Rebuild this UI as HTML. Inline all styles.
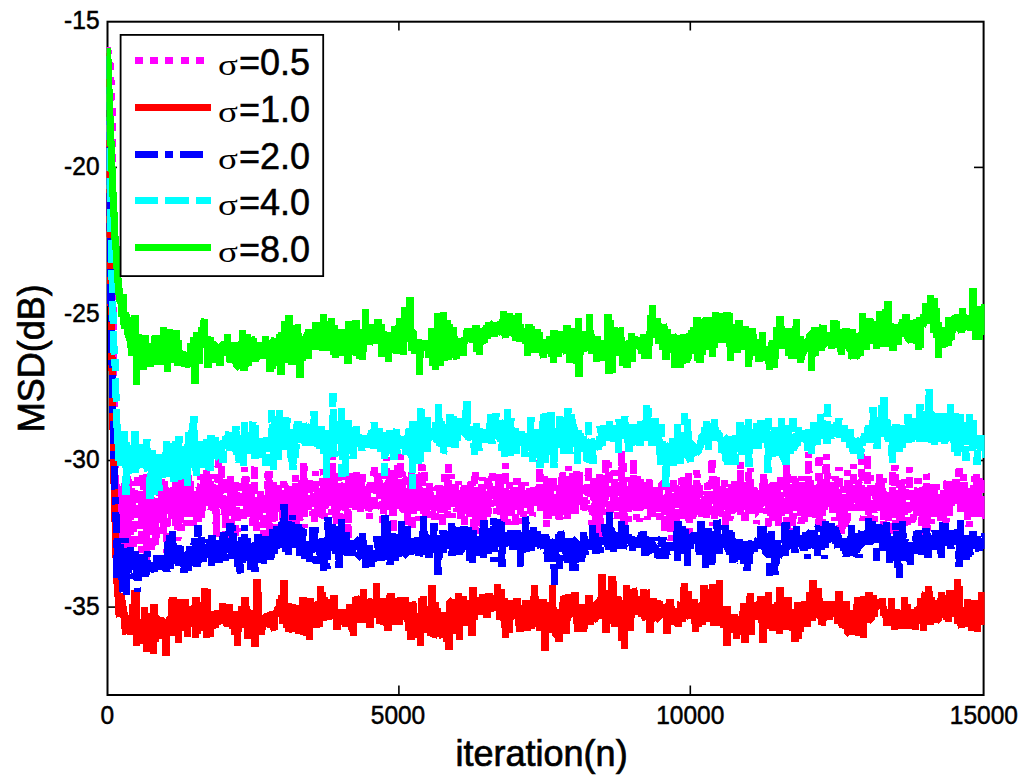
<!DOCTYPE html>
<html><head><meta charset="utf-8"><style>
html,body{margin:0;padding:0;background:#fff;width:1024px;height:783px;overflow:hidden}
svg{display:block}
text{font-family:"Liberation Sans",sans-serif;fill:#000;stroke:#000;stroke-width:0.5px}
.tk{font-size:24.5px}
.lg{font-size:36px}
.sig{font-family:"Liberation Serif",serif;font-size:33px;stroke-width:0px}
.lab{font-size:36px;stroke-width:0.7px}
</style></head><body>
<svg width="1024" height="783" viewBox="0 0 1024 783">
<rect width="1024" height="783" fill="#fff"/>
<defs><clipPath id="ax"><rect x="106.5" y="20.7" width="878.1" height="675.3"/></clipPath></defs>
<g stroke="#000" stroke-width="1.6">
<line x1="398.9" y1="695" x2="398.9" y2="685.5"/>
<line x1="398.9" y1="21.7" x2="398.9" y2="30.5"/>
<line x1="690.3" y1="695" x2="690.3" y2="685.5"/>
<line x1="690.3" y1="21.7" x2="690.3" y2="30.5"/>
<line x1="107.5" y1="167.4" x2="117" y2="167.4"/>
<line x1="983.6" y1="167.4" x2="974" y2="167.4"/>
<line x1="107.5" y1="314.0" x2="117" y2="314.0"/>
<line x1="983.6" y1="314.0" x2="974" y2="314.0"/>
<line x1="107.5" y1="460.5" x2="117" y2="460.5"/>
<line x1="983.6" y1="460.5" x2="974" y2="460.5"/>
<line x1="107.5" y1="607.1" x2="117" y2="607.1"/>
<line x1="983.6" y1="607.1" x2="974" y2="607.1"/>
</g>
<rect x="107.5" y="21.7" width="876.1" height="673.3" fill="none" stroke="#000" stroke-width="2"/>
<g clip-path="url(#ax)">
<polyline points="107.5,47 108.3,53 108.7,55 109.1,58 109.5,61 109.9,63 110.3,65 110.7,74 111.1,85 111.5,95 111.9,103 112.3,116 112.7,170 113.1,255 113.5,329 113.9,389 114.3,418 114.7,445 115.1,466 115.5,489 115.9,478 116.3,503 116.7,489 117.1,517 117.5,493 117.9,503 118.3,497 118.7,521 119.1,567 119.5,529 119.9,508 120.3,505 120.7,484 121.1,513 121.5,515 121.9,496 122.3,552 122.7,506 123.1,523 123.5,514 123.9,493 124.3,517 124.7,483 125.1,495 125.5,497 125.9,533 126.3,491 126.7,545 127.1,476 127.5,556 127.9,502 128.3,527 128.7,479 129.1,506 129.5,492 129.9,508 130.3,517 130.7,561 131.1,488 131.5,518 131.9,512 132.3,501 132.7,515 133.1,481 133.5,503 133.9,557 134.3,500 134.7,487 135.1,494 135.5,502 135.9,504 136.3,519 136.7,481 137.1,506 137.5,511 137.9,473 138.3,528 138.7,508 139.1,490 139.5,502 139.9,511 140.3,492 140.7,495 141.1,497 141.5,553 141.9,522 142.3,503 142.7,475 143.1,477 143.5,485 143.9,520 144.3,492 144.7,527 145.1,524 145.5,502 145.9,512 146.3,474 146.7,560 147.1,502 147.5,522 147.9,507 148.3,485 148.7,517 149.1,535 149.5,479 149.9,527 150.3,515 150.7,478 151.1,496 151.5,551 151.9,552 152.3,500 152.7,514 153.1,504 153.5,526 153.9,515 154.3,503 154.7,501 155.1,505 155.5,509 155.9,545 156.3,500 156.7,480 157.1,507 157.5,532 157.9,526 158.3,521 158.7,511 159.1,513 159.5,483 159.9,490 160.3,508 160.7,520 161.1,506 161.5,462 161.9,510 162.3,521 162.7,494 163.1,491 163.5,498 163.9,534 164.3,481 164.7,489 165.1,504 165.5,504 165.9,503 166.3,500 166.7,503 167.1,553 167.5,549 167.9,493 168.3,486 168.7,507 169.1,512 169.5,507 169.9,514 170.3,494 170.7,501 171.1,515 171.5,503 171.9,518 172.3,522 172.7,500 173.1,511 173.5,491 173.9,484 174.3,506 174.7,498 175.1,505 175.5,526 175.9,464 176.3,508 176.7,511 177.1,506 177.5,512 177.9,541 178.3,513 178.7,488 179.1,516 179.5,482 179.9,474 180.3,508 180.7,518 181.1,531 181.5,497 181.9,463 182.3,502 182.7,499 183.1,490 183.5,517 183.9,508 184.3,484 184.7,473 185.1,507 185.5,498 185.9,512 186.3,526 186.7,503 187.1,514 187.5,506 187.9,497 188.3,502 188.7,464 189.1,504 189.5,499 189.9,503 190.3,480 190.7,505 191.1,507 191.5,504 191.9,517 192.3,513 192.7,496 193.1,516 193.5,526 193.9,492 194.3,493 194.7,513 195.1,516 195.5,504 195.9,491 196.3,522 196.7,497 197.1,503 197.5,501 197.9,498 198.3,524 198.7,504 199.1,487 199.5,504 199.9,504 200.3,474 200.7,502 201.1,509 201.5,490 201.9,518 202.3,501 202.7,492 203.1,480 203.5,508 203.9,498 204.3,500 204.7,505 205.1,492 205.5,507 205.9,481 206.3,470 206.7,508 207.1,499 207.5,500 207.9,474 208.3,491 208.7,506 209.1,492 209.5,502 209.9,502 210.3,481 210.7,503 211.1,510 211.5,498 211.9,474 212.3,479 212.7,496 213.1,501 213.5,495 213.9,512 214.3,511 214.7,513 215.1,493 215.5,503 215.9,508 216.3,537 216.7,521 217.1,510 217.5,485 217.9,488 218.3,448 218.7,508 219.1,506 219.5,476 219.9,497 220.3,488 220.7,497 221.1,475 221.5,449 221.9,494 222.3,478 222.7,502 223.1,497 223.5,503 223.9,506 224.3,505 224.7,502 225.1,521 225.5,487 225.9,537 226.3,502 226.7,501 227.1,504 227.5,520 227.9,524 228.3,507 228.7,510 229.1,510 229.5,490 229.9,476 230.3,502 230.7,476 231.1,548 231.5,489 231.9,488 232.3,515 232.7,488 233.1,503 233.5,505 233.9,501 234.3,482 234.7,497 235.1,522 235.5,538 235.9,506 236.3,520 236.7,483 237.1,532 237.5,497 237.9,499 238.3,496 238.7,503 239.1,493 239.5,502 239.9,497 240.3,502 240.7,490 241.1,484 241.5,479 241.9,500 242.3,515 242.7,491 243.1,496 243.5,522 243.9,507 244.3,494 244.7,467 245.1,496 245.5,474 245.9,496 246.3,495 246.7,477 247.1,515 247.5,512 247.9,502 248.3,507 248.7,507 249.1,514 249.5,492 249.9,506 250.3,515 250.7,519 251.1,484 251.5,512 251.9,508 252.3,503 252.7,498 253.1,526 253.5,499 253.9,515 254.3,467 254.7,465 255.1,518 255.5,525 255.9,513 256.3,534 256.7,511 257.1,502 257.5,511 257.9,501 258.3,520 258.7,496 259.1,518 259.5,498 259.9,510 260.3,488 260.7,510 261.1,499 261.5,505 261.9,501 262.3,505 262.7,510 263.1,499 263.5,537 263.9,501 264.3,500 264.7,514 265.1,504 265.5,500 265.9,504 266.3,492 266.7,508 267.1,505 267.5,497 267.9,473 268.3,482 268.7,536 269.1,471 269.5,536 269.9,492 270.3,497 270.7,513 271.1,498 271.5,486 271.9,503 272.3,487 272.7,522 273.1,480 273.5,501 273.9,486 274.3,530 274.7,526 275.1,487 275.5,498 275.9,502 276.3,504 276.7,512 277.1,514 277.5,489 277.9,482 278.3,502 278.7,512 279.1,494 279.5,502 279.9,499 280.3,515 280.7,504 281.1,509 281.5,494 281.9,490 282.3,506 282.7,528 283.1,497 283.5,547 283.9,481 284.3,529 284.7,501 285.1,506 285.5,528 285.9,511 286.3,511 286.7,504 287.1,496 287.5,500 287.9,487 288.3,499 288.7,524 289.1,546 289.5,498 289.9,519 290.3,488 290.7,495 291.1,484 291.5,521 291.9,501 292.3,500 292.7,499 293.1,523 293.5,521 293.9,495 294.3,498 294.7,532 295.1,524 295.5,475 295.9,537 296.3,491 296.7,510 297.1,549 297.5,499 297.9,501 298.3,506 298.7,505 299.1,500 299.5,505 299.9,521 300.3,500 300.7,493 301.1,508 301.5,485 301.9,480 302.3,494 302.7,479 303.1,498 303.5,510 303.9,463 304.3,528 304.7,476 305.1,509 305.5,499 305.9,503 306.3,498 306.7,501 307.1,496 307.5,504 307.9,509 308.3,508 308.7,512 309.1,486 309.5,479 309.9,500 310.3,501 310.7,507 311.1,494 311.5,493 311.9,492 312.3,516 312.7,507 313.1,492 313.5,504 313.9,505 314.3,510 314.7,523 315.1,496 315.5,471 315.9,491 316.3,492 316.7,501 317.1,488 317.5,516 317.9,495 318.3,497 318.7,506 319.1,491 319.5,510 319.9,494 320.3,489 320.7,518 321.1,508 321.5,488 321.9,490 322.3,521 322.7,495 323.1,469 323.5,475 323.9,504 324.3,519 324.7,497 325.1,507 325.5,506 325.9,491 326.3,506 326.7,501 327.1,477 327.5,499 327.9,480 328.3,483 328.7,506 329.1,496 329.5,505 329.9,500 330.3,499 330.7,492 331.1,491 331.5,484 331.9,515 332.3,490 332.7,454 333.1,506 333.5,473 333.9,501 334.3,470 334.7,515 335.1,488 335.5,489 335.9,497 336.3,540 336.7,475 337.1,511 337.5,490 337.9,509 338.3,495 338.7,474 339.1,489 339.5,525 339.9,524 340.3,487 340.7,497 341.1,519 341.5,511 341.9,486 342.3,473 342.7,504 343.1,499 343.5,503 343.9,483 344.3,510 344.7,476 345.1,480 345.5,522 345.9,506 346.3,487 346.7,489 347.1,502 347.5,513 347.9,531 348.3,473 348.7,540 349.1,473 349.5,501 349.9,500 350.3,488 350.7,496 351.1,493 351.5,506 351.9,505 352.3,491 352.7,507 353.1,495 353.5,493 353.9,482 354.3,493 354.7,494 355.1,492 355.5,510 355.9,487 356.3,471 356.7,492 357.1,484 357.5,483 357.9,501 358.3,484 358.7,504 359.1,504 359.5,508 359.9,505 360.3,512 360.7,474 361.1,479 361.5,503 361.9,504 362.3,470 362.7,497 363.1,496 363.5,504 363.9,500 364.3,492 364.7,490 365.1,488 365.5,502 365.9,507 366.3,511 366.7,495 367.1,508 367.5,486 367.9,500 368.3,514 368.7,509 369.1,499 369.5,519 369.9,490 370.3,479 370.7,481 371.1,511 371.5,489 371.9,510 372.3,510 372.7,498 373.1,494 373.5,495 373.9,479 374.3,464 374.7,505 375.1,511 375.5,503 375.9,498 376.3,491 376.7,491 377.1,482 377.5,481 377.9,477 378.3,491 378.7,494 379.1,492 379.5,480 379.9,497 380.3,492 380.7,497 381.1,494 381.5,499 381.9,473 382.3,500 382.7,523 383.1,518 383.5,502 383.9,483 384.3,510 384.7,474 385.1,485 385.5,512 385.9,488 386.3,468 386.7,457 387.1,502 387.5,486 387.9,480 388.3,491 388.7,508 389.1,480 389.5,476 389.9,497 390.3,481 390.7,510 391.1,494 391.5,486 391.9,494 392.3,470 392.7,483 393.1,533 393.5,490 393.9,510 394.3,486 394.7,476 395.1,485 395.5,497 395.9,490 396.3,501 396.7,482 397.1,502 397.5,464 397.9,494 398.3,489 398.7,471 399.1,509 399.5,505 399.9,493 400.3,454 400.7,498 401.1,490 401.5,493 401.9,471 402.3,496 402.7,513 403.1,498 403.5,488 403.9,506 404.3,513 404.7,497 405.1,479 405.5,479 405.9,505 406.3,490 406.7,491 407.1,517 407.5,499 407.9,527 408.3,509 408.7,496 409.1,491 409.5,495 409.9,502 410.3,503 410.7,479 411.1,502 411.5,472 411.9,530 412.3,496 412.7,504 413.1,514 413.5,501 413.9,484 414.3,497 414.7,497 415.1,472 415.5,499 415.9,477 416.3,483 416.7,506 417.1,498 417.5,479 417.9,497 418.3,489 418.7,474 419.1,521 419.5,477 419.9,491 420.3,497 420.7,500 421.1,485 421.5,483 421.9,464 422.3,489 422.7,500 423.1,494 423.5,491 423.9,516 424.3,511 424.7,469 425.1,512 425.5,500 425.9,515 426.3,520 426.7,494 427.1,503 427.5,507 427.9,508 428.3,489 428.7,503 429.1,495 429.5,481 429.9,504 430.3,507 430.7,495 431.1,490 431.5,503 431.9,509 432.3,511 432.7,518 433.1,508 433.5,503 433.9,501 434.3,505 434.7,493 435.1,520 435.5,497 435.9,510 436.3,505 436.7,489 437.1,487 437.5,509 437.9,502 438.3,496 438.7,494 439.1,485 439.5,511 439.9,498 440.3,485 440.7,501 441.1,515 441.5,499 441.9,505 442.3,495 442.7,527 443.1,497 443.5,483 443.9,515 444.3,500 444.7,470 445.1,510 445.5,503 445.9,505 446.3,489 446.7,488 447.1,512 447.5,518 447.9,482 448.3,505 448.7,461 449.1,502 449.5,490 449.9,489 450.3,486 450.7,475 451.1,506 451.5,474 451.9,493 452.3,518 452.7,491 453.1,495 453.5,494 453.9,504 454.3,485 454.7,489 455.1,483 455.5,500 455.9,492 456.3,492 456.7,489 457.1,512 457.5,497 457.9,490 458.3,481 458.7,508 459.1,490 459.5,498 459.9,505 460.3,500 460.7,494 461.1,520 461.5,489 461.9,512 462.3,488 462.7,508 463.1,502 463.5,498 463.9,492 464.3,482 464.7,536 465.1,499 465.5,515 465.9,488 466.3,494 466.7,514 467.1,500 467.5,513 467.9,494 468.3,489 468.7,483 469.1,490 469.5,517 469.9,495 470.3,491 470.7,482 471.1,496 471.5,518 471.9,481 472.3,486 472.7,503 473.1,495 473.5,513 473.9,533 474.3,491 474.7,492 475.1,470 475.5,534 475.9,498 476.3,510 476.7,496 477.1,495 477.5,497 477.9,503 478.3,504 478.7,488 479.1,506 479.5,494 479.9,503 480.3,508 480.7,521 481.1,508 481.5,487 481.9,484 482.3,521 482.7,477 483.1,529 483.5,502 483.9,495 484.3,491 484.7,495 485.1,491 485.5,491 485.9,494 486.3,508 486.7,504 487.1,498 487.5,519 487.9,476 488.3,484 488.7,514 489.1,483 489.5,487 489.9,495 490.3,491 490.7,507 491.1,486 491.5,501 491.9,476 492.3,481 492.7,473 493.1,489 493.5,499 493.9,483 494.3,476 494.7,480 495.1,493 495.5,505 495.9,496 496.3,493 496.7,503 497.1,514 497.5,502 497.9,506 498.3,471 498.7,489 499.1,482 499.5,510 499.9,485 500.3,475 500.7,491 501.1,515 501.5,501 501.9,494 502.3,508 502.7,513 503.1,510 503.5,502 503.9,524 504.3,496 504.7,505 505.1,506 505.5,463 505.9,493 506.3,490 506.7,497 507.1,500 507.5,494 507.9,525 508.3,507 508.7,509 509.1,500 509.5,497 509.9,482 510.3,510 510.7,520 511.1,525 511.5,496 511.9,502 512.3,503 512.7,498 513.1,491 513.5,488 513.9,485 514.3,492 514.7,498 515.1,488 515.5,527 515.9,486 516.3,504 516.7,502 517.1,478 517.5,485 517.9,490 518.3,513 518.7,500 519.1,504 519.5,491 519.9,489 520.3,524 520.7,496 521.1,509 521.5,481 521.9,499 522.3,491 522.7,492 523.1,489 523.5,517 523.9,500 524.3,504 524.7,493 525.1,488 525.5,482 525.9,500 526.3,495 526.7,501 527.1,505 527.5,496 527.9,508 528.3,492 528.7,509 529.1,508 529.5,488 529.9,495 530.3,514 530.7,505 531.1,497 531.5,493 531.9,490 532.3,516 532.7,514 533.1,506 533.5,506 533.9,487 534.3,489 534.7,504 535.1,493 535.5,502 535.9,491 536.3,487 536.7,486 537.1,499 537.5,506 537.9,500 538.3,493 538.7,487 539.1,503 539.5,502 539.9,460 540.3,511 540.7,489 541.1,505 541.5,495 541.9,498 542.3,496 542.7,484 543.1,486 543.5,499 543.9,491 544.3,476 544.7,508 545.1,491 545.5,507 545.9,509 546.3,476 546.7,527 547.1,505 547.5,508 547.9,512 548.3,519 548.7,506 549.1,480 549.5,500 549.9,503 550.3,478 550.7,493 551.1,479 551.5,505 551.9,515 552.3,506 552.7,512 553.1,477 553.5,516 553.9,496 554.3,507 554.7,504 555.1,501 555.5,504 555.9,495 556.3,496 556.7,504 557.1,503 557.5,505 557.9,494 558.3,494 558.7,506 559.1,519 559.5,483 559.9,520 560.3,489 560.7,489 561.1,515 561.5,476 561.9,513 562.3,494 562.7,470 563.1,483 563.5,497 563.9,509 564.3,497 564.7,483 565.1,486 565.5,495 565.9,493 566.3,491 566.7,494 567.1,519 567.5,481 567.9,503 568.3,466 568.7,507 569.1,499 569.5,497 569.9,514 570.3,492 570.7,496 571.1,487 571.5,486 571.9,495 572.3,473 572.7,495 573.1,494 573.5,497 573.9,504 574.3,496 574.7,477 575.1,515 575.5,498 575.9,493 576.3,479 576.7,471 577.1,497 577.5,490 577.9,503 578.3,488 578.7,496 579.1,472 579.5,506 579.9,492 580.3,496 580.7,508 581.1,500 581.5,502 581.9,495 582.3,496 582.7,485 583.1,482 583.5,513 583.9,500 584.3,501 584.7,497 585.1,507 585.5,501 585.9,502 586.3,504 586.7,483 587.1,485 587.5,490 587.9,484 588.3,467 588.7,491 589.1,498 589.5,481 589.9,490 590.3,498 590.7,485 591.1,510 591.5,510 591.9,525 592.3,523 592.7,512 593.1,510 593.5,497 593.9,481 594.3,503 594.7,517 595.1,501 595.5,478 595.9,523 596.3,482 596.7,497 597.1,485 597.5,526 597.9,496 598.3,517 598.7,513 599.1,545 599.5,473 599.9,533 600.3,504 600.7,501 601.1,518 601.5,481 601.9,484 602.3,514 602.7,512 603.1,479 603.5,494 603.9,494 604.3,507 604.7,501 605.1,482 605.5,500 605.9,459 606.3,492 606.7,486 607.1,495 607.5,490 607.9,483 608.3,484 608.7,462 609.1,485 609.5,500 609.9,515 610.3,501 610.7,491 611.1,485 611.5,484 611.9,499 612.3,504 612.7,507 613.1,497 613.5,507 613.9,500 614.3,485 614.7,470 615.1,494 615.5,505 615.9,499 616.3,506 616.7,491 617.1,519 617.5,495 617.9,486 618.3,488 618.7,519 619.1,481 619.5,493 619.9,505 620.3,498 620.7,485 621.1,484 621.5,451 621.9,508 622.3,489 622.7,527 623.1,460 623.5,508 623.9,533 624.3,489 624.7,526 625.1,491 625.5,500 625.9,507 626.3,491 626.7,514 627.1,485 627.5,493 627.9,477 628.3,522 628.7,511 629.1,510 629.5,489 629.9,486 630.3,507 630.7,505 631.1,500 631.5,479 631.9,497 632.3,478 632.7,510 633.1,488 633.5,459 633.9,505 634.3,501 634.7,496 635.1,498 635.5,506 635.9,501 636.3,520 636.7,498 637.1,507 637.5,485 637.9,476 638.3,506 638.7,492 639.1,501 639.5,486 639.9,522 640.3,479 640.7,501 641.1,489 641.5,508 641.9,509 642.3,493 642.7,497 643.1,509 643.5,487 643.9,495 644.3,484 644.7,507 645.1,494 645.5,488 645.9,496 646.3,480 646.7,492 647.1,509 647.5,520 647.9,492 648.3,504 648.7,500 649.1,483 649.5,476 649.9,490 650.3,489 650.7,516 651.1,492 651.5,514 651.9,500 652.3,518 652.7,498 653.1,488 653.5,501 653.9,489 654.3,495 654.7,504 655.1,498 655.5,487 655.9,493 656.3,497 656.7,500 657.1,489 657.5,496 657.9,488 658.3,511 658.7,494 659.1,487 659.5,490 659.9,520 660.3,497 660.7,511 661.1,504 661.5,484 661.9,484 662.3,500 662.7,485 663.1,500 663.5,504 663.9,499 664.3,531 664.7,503 665.1,496 665.5,502 665.9,518 666.3,502 666.7,512 667.1,496 667.5,494 667.9,504 668.3,500 668.7,483 669.1,506 669.5,493 669.9,516 670.3,517 670.7,519 671.1,541 671.5,501 671.9,529 672.3,506 672.7,497 673.1,478 673.5,506 673.9,501 674.3,504 674.7,518 675.1,488 675.5,489 675.9,485 676.3,528 676.7,531 677.1,489 677.5,501 677.9,488 678.3,506 678.7,499 679.1,504 679.5,497 679.9,497 680.3,499 680.7,490 681.1,507 681.5,507 681.9,478 682.3,499 682.7,521 683.1,502 683.5,496 683.9,475 684.3,493 684.7,507 685.1,504 685.5,480 685.9,487 686.3,506 686.7,506 687.1,494 687.5,505 687.9,476 688.3,517 688.7,473 689.1,541 689.5,481 689.9,510 690.3,488 690.7,509 691.1,508 691.5,492 691.9,500 692.3,519 692.7,506 693.1,492 693.5,519 693.9,502 694.3,497 694.7,517 695.1,503 695.5,500 695.9,505 696.3,493 696.7,470 697.1,494 697.5,474 697.9,505 698.3,503 698.7,505 699.1,500 699.5,484 699.9,494 700.3,504 700.7,509 701.1,504 701.5,506 701.9,519 702.3,499 702.7,503 703.1,500 703.5,510 703.9,508 704.3,496 704.7,517 705.1,491 705.5,503 705.9,505 706.3,518 706.7,501 707.1,502 707.5,483 707.9,507 708.3,507 708.7,500 709.1,512 709.5,500 709.9,482 710.3,496 710.7,499 711.1,500 711.5,506 711.9,459 712.3,481 712.7,504 713.1,526 713.5,516 713.9,498 714.3,475 714.7,521 715.1,517 715.5,498 715.9,496 716.3,477 716.7,512 717.1,504 717.5,501 717.9,496 718.3,503 718.7,514 719.1,510 719.5,510 719.9,510 720.3,502 720.7,518 721.1,495 721.5,487 721.9,495 722.3,489 722.7,486 723.1,501 723.5,496 723.9,504 724.3,480 724.7,506 725.1,502 725.5,526 725.9,517 726.3,497 726.7,488 727.1,492 727.5,517 727.9,499 728.3,512 728.7,507 729.1,504 729.5,495 729.9,521 730.3,488 730.7,493 731.1,502 731.5,484 731.9,514 732.3,492 732.7,510 733.1,508 733.5,498 733.9,501 734.3,482 734.7,490 735.1,481 735.5,508 735.9,512 736.3,501 736.7,508 737.1,512 737.5,506 737.9,497 738.3,511 738.7,505 739.1,481 739.5,505 739.9,503 740.3,462 740.7,516 741.1,508 741.5,490 741.9,500 742.3,491 742.7,496 743.1,498 743.5,509 743.9,503 744.3,521 744.7,481 745.1,523 745.5,513 745.9,514 746.3,483 746.7,490 747.1,507 747.5,497 747.9,499 748.3,469 748.7,516 749.1,500 749.5,479 749.9,489 750.3,468 750.7,514 751.1,508 751.5,500 751.9,496 752.3,497 752.7,515 753.1,497 753.5,496 753.9,484 754.3,508 754.7,498 755.1,514 755.5,514 755.9,494 756.3,524 756.7,522 757.1,508 757.5,494 757.9,487 758.3,487 758.7,501 759.1,490 759.5,493 759.9,504 760.3,509 760.7,495 761.1,491 761.5,493 761.9,508 762.3,480 762.7,499 763.1,496 763.5,503 763.9,473 764.3,513 764.7,496 765.1,491 765.5,493 765.9,484 766.3,500 766.7,514 767.1,500 767.5,496 767.9,503 768.3,503 768.7,545 769.1,491 769.5,485 769.9,503 770.3,491 770.7,516 771.1,497 771.5,507 771.9,487 772.3,509 772.7,480 773.1,521 773.5,507 773.9,482 774.3,514 774.7,510 775.1,494 775.5,501 775.9,487 776.3,504 776.7,519 777.1,490 777.5,487 777.9,509 778.3,527 778.7,515 779.1,502 779.5,492 779.9,485 780.3,476 780.7,494 781.1,519 781.5,507 781.9,506 782.3,512 782.7,513 783.1,498 783.5,507 783.9,513 784.3,499 784.7,503 785.1,491 785.5,492 785.9,497 786.3,464 786.7,510 787.1,530 787.5,471 787.9,486 788.3,499 788.7,525 789.1,522 789.5,503 789.9,497 790.3,504 790.7,505 791.1,511 791.5,496 791.9,506 792.3,494 792.7,535 793.1,505 793.5,509 793.9,476 794.3,503 794.7,505 795.1,478 795.5,502 795.9,502 796.3,492 796.7,492 797.1,492 797.5,483 797.9,497 798.3,491 798.7,500 799.1,492 799.5,489 799.9,511 800.3,502 800.7,487 801.1,524 801.5,479 801.9,476 802.3,490 802.7,512 803.1,479 803.5,497 803.9,498 804.3,525 804.7,499 805.1,499 805.5,507 805.9,492 806.3,494 806.7,486 807.1,517 807.5,503 807.9,488 808.3,505 808.7,452 809.1,489 809.5,501 809.9,487 810.3,493 810.7,480 811.1,489 811.5,498 811.9,518 812.3,507 812.7,515 813.1,515 813.5,502 813.9,486 814.3,491 814.7,490 815.1,499 815.5,501 815.9,506 816.3,491 816.7,495 817.1,485 817.5,495 817.9,499 818.3,533 818.7,476 819.1,454 819.5,519 819.9,484 820.3,505 820.7,479 821.1,510 821.5,490 821.9,502 822.3,486 822.7,525 823.1,491 823.5,480 823.9,508 824.3,510 824.7,491 825.1,496 825.5,466 825.9,474 826.3,454 826.7,500 827.1,488 827.5,473 827.9,487 828.3,489 828.7,507 829.1,491 829.5,500 829.9,497 830.3,505 830.7,492 831.1,484 831.5,483 831.9,498 832.3,495 832.7,513 833.1,480 833.5,506 833.9,500 834.3,484 834.7,521 835.1,476 835.5,509 835.9,487 836.3,501 836.7,498 837.1,499 837.5,506 837.9,480 838.3,505 838.7,502 839.1,467 839.5,544 839.9,512 840.3,512 840.7,497 841.1,505 841.5,492 841.9,534 842.3,495 842.7,529 843.1,486 843.5,499 843.9,506 844.3,503 844.7,524 845.1,489 845.5,529 845.9,502 846.3,498 846.7,526 847.1,517 847.5,470 847.9,509 848.3,503 848.7,508 849.1,491 849.5,480 849.9,495 850.3,499 850.7,506 851.1,492 851.5,493 851.9,510 852.3,503 852.7,511 853.1,480 853.5,464 853.9,486 854.3,487 854.7,498 855.1,485 855.5,493 855.9,504 856.3,495 856.7,505 857.1,488 857.5,493 857.9,503 858.3,511 858.7,482 859.1,482 859.5,496 859.9,490 860.3,501 860.7,497 861.1,493 861.5,488 861.9,452 862.3,490 862.7,495 863.1,521 863.5,494 863.9,503 864.3,503 864.7,508 865.1,491 865.5,496 865.9,509 866.3,498 866.7,495 867.1,502 867.5,455 867.9,501 868.3,515 868.7,497 869.1,514 869.5,513 869.9,497 870.3,475 870.7,519 871.1,497 871.5,504 871.9,507 872.3,510 872.7,506 873.1,504 873.5,506 873.9,512 874.3,522 874.7,484 875.1,493 875.5,508 875.9,496 876.3,501 876.7,490 877.1,511 877.5,485 877.9,495 878.3,482 878.7,504 879.1,497 879.5,474 879.9,490 880.3,489 880.7,503 881.1,493 881.5,483 881.9,492 882.3,510 882.7,489 883.1,478 883.5,528 883.9,498 884.3,507 884.7,517 885.1,519 885.5,498 885.9,509 886.3,497 886.7,492 887.1,494 887.5,508 887.9,498 888.3,521 888.7,505 889.1,504 889.5,500 889.9,495 890.3,512 890.7,496 891.1,536 891.5,505 891.9,503 892.3,471 892.7,514 893.1,496 893.5,507 893.9,503 894.3,495 894.7,473 895.1,465 895.5,542 895.9,505 896.3,516 896.7,502 897.1,501 897.5,499 897.9,495 898.3,501 898.7,514 899.1,483 899.5,523 899.9,503 900.3,517 900.7,505 901.1,480 901.5,526 901.9,511 902.3,486 902.7,509 903.1,504 903.5,518 903.9,502 904.3,517 904.7,479 905.1,491 905.5,494 905.9,496 906.3,498 906.7,497 907.1,529 907.5,500 907.9,511 908.3,513 908.7,503 909.1,508 909.5,467 909.9,495 910.3,491 910.7,493 911.1,510 911.5,520 911.9,522 912.3,519 912.7,510 913.1,497 913.5,507 913.9,520 914.3,490 914.7,494 915.1,503 915.5,506 915.9,498 916.3,509 916.7,514 917.1,489 917.5,495 917.9,478 918.3,493 918.7,501 919.1,519 919.5,494 919.9,509 920.3,508 920.7,513 921.1,491 921.5,537 921.9,513 922.3,485 922.7,519 923.1,506 923.5,495 923.9,498 924.3,499 924.7,544 925.1,496 925.5,486 925.9,533 926.3,474 926.7,476 927.1,506 927.5,531 927.9,515 928.3,499 928.7,488 929.1,502 929.5,504 929.9,502 930.3,498 930.7,497 931.1,524 931.5,496 931.9,496 932.3,513 932.7,497 933.1,484 933.5,495 933.9,507 934.3,486 934.7,517 935.1,507 935.5,503 935.9,484 936.3,500 936.7,493 937.1,503 937.5,495 937.9,504 938.3,508 938.7,496 939.1,511 939.5,518 939.9,515 940.3,498 940.7,523 941.1,498 941.5,492 941.9,510 942.3,501 942.7,499 943.1,519 943.5,515 943.9,490 944.3,504 944.7,497 945.1,514 945.5,519 945.9,524 946.3,491 946.7,503 947.1,481 947.5,478 947.9,493 948.3,493 948.7,488 949.1,517 949.5,513 949.9,495 950.3,492 950.7,496 951.1,507 951.5,498 951.9,489 952.3,495 952.7,496 953.1,499 953.5,488 953.9,497 954.3,498 954.7,480 955.1,494 955.5,499 955.9,475 956.3,499 956.7,504 957.1,498 957.5,498 957.9,492 958.3,504 958.7,495 959.1,465 959.5,478 959.9,491 960.3,486 960.7,505 961.1,513 961.5,496 961.9,496 962.3,500 962.7,497 963.1,494 963.5,500 963.9,474 964.3,501 964.7,504 965.1,502 965.5,498 965.9,491 966.3,485 966.7,487 967.1,499 967.5,520 967.9,507 968.3,512 968.7,516 969.1,527 969.5,504 969.9,501 970.3,499 970.7,509 971.1,515 971.5,499 971.9,490 972.3,493 972.7,512 973.1,493 973.5,484 973.9,499 974.3,476 974.7,517 975.1,509 975.5,509 975.9,492 976.3,496 976.7,474 977.1,505 977.5,498 977.9,492 978.3,517 978.7,510 979.1,476 979.5,510 979.9,500 980.3,500 980.7,500 981.1,505 981.5,478 981.9,511 982.3,502 982.7,489 983.1,512 983.5,495 983.9,500 984.3,514 984.7,502 985.1,519 985.5,510 985.9,505 986.3,503" fill="none" stroke="#ff00ff" stroke-width="7.2" stroke-linejoin="bevel" shape-rendering="crispEdges" stroke-dasharray="8 7.3"/>
<polyline points="107.5,53 108.0,89 108.5,125 109.0,160 109.5,195 110.0,229 110.5,264 111.0,299 111.5,331 112.0,363 112.5,396 113.0,423 113.5,454 114.0,478 114.5,504 115.0,515 115.5,545 116.0,558 116.5,558 117.0,583 117.5,586 118.0,597 118.5,594 119.0,614 119.5,617 120.0,608 120.5,609 121.0,597 121.5,593 122.0,601 122.5,606 123.0,607 123.5,616 124.0,617 124.5,612 125.0,628 125.5,632 126.0,634 126.5,620 127.0,616 127.5,625 128.0,616 128.5,624 129.0,621 129.5,628 130.0,620 130.5,635 131.0,616 131.5,621 132.0,615 132.5,621 133.0,604 133.5,632 134.0,617 134.5,621 135.0,590 135.5,633 136.0,590 136.5,646 137.0,622 137.5,631 138.0,633 138.5,620 139.0,630 139.5,642 140.0,633 140.5,644 141.0,619 141.5,637 142.0,641 142.5,630 143.0,633 143.5,636 144.0,633 144.5,607 145.0,637 145.5,630 146.0,631 146.5,652 147.0,629 147.5,636 148.0,628 148.5,629 149.0,613 149.5,623 150.0,627 150.5,633 151.0,628 151.5,628 152.0,634 152.5,623 153.0,635 153.5,654 154.0,604 154.5,634 155.0,642 155.5,620 156.0,624 156.5,623 157.0,619 157.5,627 158.0,619 158.5,619 159.0,627 159.5,621 160.0,622 160.5,617 161.0,621 161.5,625 162.0,624 162.5,639 163.0,621 163.5,621 164.0,626 164.5,633 165.0,621 165.5,628 166.0,656 166.5,624 167.0,628 167.5,626 168.0,633 168.5,636 169.0,623 169.5,629 170.0,617 170.5,629 171.0,621 171.5,599 172.0,619 172.5,636 173.0,597 173.5,610 174.0,609 174.5,617 175.0,617 175.5,614 176.0,613 176.5,623 177.0,622 177.5,617 178.0,619 178.5,643 179.0,625 179.5,599 180.0,614 180.5,621 181.0,606 181.5,611 182.0,614 182.5,612 183.0,631 183.5,624 184.0,620 184.5,615 185.0,599 185.5,627 186.0,617 186.5,622 187.0,625 187.5,637 188.0,619 188.5,622 189.0,618 189.5,614 190.0,622 190.5,627 191.0,606 191.5,608 192.0,609 192.5,616 193.0,610 193.5,617 194.0,614 194.5,614 195.0,611 195.5,638 196.0,597 196.5,633 197.0,611 197.5,634 198.0,615 198.5,612 199.0,605 199.5,610 200.0,611 200.5,602 201.0,620 201.5,624 202.0,622 202.5,608 203.0,606 203.5,625 204.0,631 204.5,588 205.0,612 205.5,598 206.0,612 206.5,638 207.0,632 207.5,589 208.0,616 208.5,624 209.0,614 209.5,625 210.0,611 210.5,637 211.0,617 211.5,617 212.0,629 212.5,621 213.0,617 213.5,625 214.0,620 214.5,614 215.0,614 215.5,628 216.0,612 216.5,624 217.0,625 217.5,616 218.0,610 218.5,620 219.0,621 219.5,624 220.0,620 220.5,622 221.0,612 221.5,624 222.0,617 222.5,603 223.0,624 223.5,606 224.0,621 224.5,619 225.0,607 225.5,611 226.0,619 226.5,624 227.0,625 227.5,624 228.0,612 228.5,617 229.0,609 229.5,604 230.0,616 230.5,619 231.0,619 231.5,618 232.0,619 232.5,629 233.0,622 233.5,629 234.0,622 234.5,611 235.0,635 235.5,627 236.0,630 236.5,625 237.0,625 237.5,646 238.0,629 238.5,617 239.0,622 239.5,624 240.0,628 240.5,618 241.0,617 241.5,626 242.0,606 242.5,622 243.0,628 243.5,614 244.0,610 244.5,618 245.0,597 245.5,613 246.0,606 246.5,614 247.0,609 247.5,634 248.0,639 248.5,620 249.0,623 249.5,637 250.0,611 250.5,612 251.0,616 251.5,619 252.0,617 252.5,611 253.0,626 253.5,637 254.0,627 254.5,614 255.0,647 255.5,625 256.0,628 256.5,603 257.0,579 257.5,589 258.0,593 258.5,630 259.0,624 259.5,623 260.0,621 260.5,621 261.0,620 261.5,635 262.0,629 262.5,618 263.0,619 263.5,619 264.0,620 264.5,622 265.0,624 265.5,620 266.0,615 266.5,616 267.0,617 267.5,613 268.0,625 268.5,626 269.0,619 269.5,621 270.0,615 270.5,628 271.0,612 271.5,613 272.0,614 272.5,613 273.0,620 273.5,616 274.0,629 274.5,630 275.0,612 275.5,612 276.0,615 276.5,615 277.0,614 277.5,617 278.0,607 278.5,617 279.0,608 279.5,599 280.0,603 280.5,607 281.0,601 281.5,595 282.0,605 282.5,616 283.0,624 283.5,598 284.0,580 284.5,600 285.0,607 285.5,607 286.0,611 286.5,628 287.0,621 287.5,610 288.0,603 288.5,632 289.0,630 289.5,617 290.0,609 290.5,611 291.0,619 291.5,616 292.0,624 292.5,604 293.0,613 293.5,631 294.0,612 294.5,616 295.0,619 295.5,632 296.0,618 296.5,626 297.0,618 297.5,629 298.0,630 298.5,634 299.0,625 299.5,605 300.0,624 300.5,621 301.0,614 301.5,610 302.0,633 302.5,626 303.0,597 303.5,635 304.0,619 304.5,606 305.0,607 305.5,611 306.0,608 306.5,636 307.0,629 307.5,620 308.0,625 308.5,617 309.0,625 309.5,640 310.0,598 310.5,613 311.0,608 311.5,602 312.0,614 312.5,616 313.0,621 313.5,617 314.0,617 314.5,623 315.0,626 315.5,603 316.0,616 316.5,628 317.0,606 317.5,609 318.0,616 318.5,601 319.0,607 319.5,627 320.0,607 320.5,586 321.0,593 321.5,601 322.0,603 322.5,592 323.0,621 323.5,604 324.0,597 324.5,614 325.0,601 325.5,604 326.0,608 326.5,610 327.0,599 327.5,612 328.0,620 328.5,601 329.0,608 329.5,600 330.0,609 330.5,610 331.0,612 331.5,614 332.0,610 332.5,613 333.0,619 333.5,610 334.0,595 334.5,618 335.0,609 335.5,614 336.0,614 336.5,620 337.0,630 337.5,616 338.0,615 338.5,621 339.0,624 339.5,620 340.0,617 340.5,613 341.0,615 341.5,625 342.0,620 342.5,613 343.0,610 343.5,612 344.0,615 344.5,612 345.0,622 345.5,627 346.0,614 346.5,620 347.0,622 347.5,617 348.0,618 348.5,623 349.0,619 349.5,619 350.0,604 350.5,613 351.0,611 351.5,620 352.0,629 352.5,631 353.0,613 353.5,636 354.0,617 354.5,618 355.0,619 355.5,597 356.0,598 356.5,619 357.0,611 357.5,611 358.0,618 358.5,619 359.0,623 359.5,614 360.0,621 360.5,604 361.0,623 361.5,602 362.0,609 362.5,621 363.0,599 363.5,589 364.0,620 364.5,622 365.0,619 365.5,611 366.0,615 366.5,612 367.0,617 367.5,615 368.0,599 368.5,601 369.0,613 369.5,617 370.0,628 370.5,607 371.0,610 371.5,602 372.0,605 372.5,615 373.0,613 373.5,618 374.0,607 374.5,611 375.0,611 375.5,599 376.0,610 376.5,583 377.0,612 377.5,608 378.0,607 378.5,604 379.0,598 379.5,624 380.0,608 380.5,599 381.0,611 381.5,607 382.0,620 382.5,619 383.0,606 383.5,604 384.0,625 384.5,603 385.0,609 385.5,600 386.0,614 386.5,626 387.0,598 387.5,622 388.0,631 388.5,610 389.0,621 389.5,606 390.0,595 390.5,603 391.0,593 391.5,610 392.0,621 392.5,610 393.0,625 393.5,604 394.0,620 394.5,619 395.0,605 395.5,602 396.0,614 396.5,618 397.0,598 397.5,600 398.0,608 398.5,624 399.0,602 399.5,625 400.0,612 400.5,618 401.0,619 401.5,602 402.0,615 402.5,606 403.0,604 403.5,605 404.0,599 404.5,618 405.0,597 405.5,618 406.0,613 406.5,610 407.0,619 407.5,620 408.0,613 408.5,631 409.0,628 409.5,609 410.0,613 410.5,617 411.0,640 411.5,622 412.0,611 412.5,602 413.0,604 413.5,630 414.0,633 414.5,636 415.0,626 415.5,627 416.0,630 416.5,619 417.0,619 417.5,638 418.0,614 418.5,615 419.0,624 419.5,620 420.0,631 420.5,646 421.0,625 421.5,598 422.0,618 422.5,614 423.0,613 423.5,596 424.0,621 424.5,630 425.0,623 425.5,615 426.0,625 426.5,633 427.0,609 427.5,606 428.0,627 428.5,618 429.0,617 429.5,612 430.0,618 430.5,636 431.0,631 431.5,615 432.0,585 432.5,624 433.0,622 433.5,637 434.0,636 434.5,624 435.0,614 435.5,602 436.0,609 436.5,621 437.0,626 437.5,608 438.0,629 438.5,619 439.0,620 439.5,623 440.0,629 440.5,624 441.0,624 441.5,637 442.0,612 442.5,635 443.0,638 443.5,618 444.0,614 444.5,615 445.0,625 445.5,625 446.0,620 446.5,623 447.0,642 447.5,624 448.0,631 448.5,622 449.0,650 449.5,613 450.0,601 450.5,601 451.0,616 451.5,599 452.0,625 452.5,620 453.0,613 453.5,612 454.0,622 454.5,613 455.0,628 455.5,616 456.0,622 456.5,620 457.0,634 457.5,618 458.0,615 458.5,593 459.0,615 459.5,640 460.0,603 460.5,607 461.0,602 461.5,602 462.0,617 462.5,621 463.0,622 463.5,596 464.0,620 464.5,615 465.0,618 465.5,613 466.0,610 466.5,613 467.0,626 467.5,622 468.0,603 468.5,606 469.0,600 469.5,612 470.0,619 470.5,612 471.0,615 471.5,607 472.0,636 472.5,608 473.0,587 473.5,617 474.0,617 474.5,620 475.0,607 475.5,607 476.0,605 476.5,603 477.0,615 477.5,608 478.0,609 478.5,600 479.0,605 479.5,602 480.0,612 480.5,611 481.0,597 481.5,615 482.0,598 482.5,604 483.0,594 483.5,614 484.0,598 484.5,608 485.0,603 485.5,610 486.0,605 486.5,606 487.0,618 487.5,599 488.0,605 488.5,602 489.0,593 489.5,601 490.0,612 490.5,603 491.0,600 491.5,601 492.0,608 492.5,602 493.0,595 493.5,598 494.0,602 494.5,608 495.0,603 495.5,611 496.0,595 496.5,610 497.0,601 497.5,584 498.0,610 498.5,608 499.0,596 499.5,597 500.0,620 500.5,618 501.0,589 501.5,612 502.0,606 502.5,610 503.0,600 503.5,604 504.0,598 504.5,612 505.0,625 505.5,638 506.0,613 506.5,619 507.0,615 507.5,603 508.0,610 508.5,628 509.0,633 509.5,615 510.0,620 510.5,610 511.0,605 511.5,609 512.0,600 512.5,606 513.0,611 513.5,611 514.0,617 514.5,616 515.0,614 515.5,611 516.0,602 516.5,619 517.0,598 517.5,603 518.0,606 518.5,626 519.0,617 519.5,612 520.0,632 520.5,613 521.0,626 521.5,618 522.0,616 522.5,609 523.0,609 523.5,622 524.0,628 524.5,609 525.0,616 525.5,614 526.0,600 526.5,613 527.0,616 527.5,631 528.0,620 528.5,623 529.0,613 529.5,628 530.0,606 530.5,607 531.0,629 531.5,620 532.0,617 532.5,618 533.0,627 533.5,621 534.0,599 534.5,585 535.0,598 535.5,598 536.0,607 536.5,609 537.0,600 537.5,616 538.0,619 538.5,613 539.0,608 539.5,631 540.0,599 540.5,629 541.0,609 541.5,629 542.0,621 542.5,612 543.0,599 543.5,623 544.0,605 544.5,621 545.0,651 545.5,608 546.0,615 546.5,613 547.0,606 547.5,623 548.0,625 548.5,602 549.0,606 549.5,620 550.0,606 550.5,618 551.0,633 551.5,611 552.0,618 552.5,585 553.0,611 553.5,621 554.0,612 554.5,630 555.0,614 555.5,635 556.0,635 556.5,623 557.0,622 557.5,629 558.0,622 558.5,609 559.0,642 559.5,611 560.0,613 560.5,618 561.0,624 561.5,632 562.0,611 562.5,602 563.0,603 563.5,608 564.0,596 564.5,616 565.0,624 565.5,595 566.0,634 566.5,617 567.0,621 567.5,613 568.0,605 568.5,594 569.0,598 569.5,606 570.0,612 570.5,612 571.0,614 571.5,614 572.0,616 572.5,610 573.0,616 573.5,611 574.0,617 574.5,614 575.0,592 575.5,613 576.0,615 576.5,606 577.0,624 577.5,611 578.0,632 578.5,623 579.0,628 579.5,612 580.0,627 580.5,622 581.0,624 581.5,604 582.0,625 582.5,618 583.0,613 583.5,632 584.0,628 584.5,616 585.0,624 585.5,622 586.0,609 586.5,616 587.0,624 587.5,620 588.0,625 588.5,615 589.0,595 589.5,615 590.0,625 590.5,611 591.0,614 591.5,611 592.0,614 592.5,617 593.0,613 593.5,617 594.0,622 594.5,615 595.0,614 595.5,619 596.0,619 596.5,603 597.0,603 597.5,610 598.0,602 598.5,612 599.0,614 599.5,608 600.0,619 600.5,609 601.0,597 601.5,607 602.0,574 602.5,618 603.0,602 603.5,601 604.0,598 604.5,590 605.0,594 605.5,629 606.0,633 606.5,602 607.0,616 607.5,592 608.0,591 608.5,595 609.0,603 609.5,597 610.0,624 610.5,615 611.0,601 611.5,622 612.0,576 612.5,611 613.0,581 613.5,594 614.0,610 614.5,596 615.0,627 615.5,604 616.0,603 616.5,599 617.0,596 617.5,624 618.0,606 618.5,597 619.0,625 619.5,615 620.0,601 620.5,604 621.0,614 621.5,641 622.0,628 622.5,613 623.0,637 623.5,601 624.0,619 624.5,649 625.0,616 625.5,631 626.0,612 626.5,585 627.0,605 627.5,590 628.0,617 628.5,612 629.0,608 629.5,599 630.0,631 630.5,614 631.0,618 631.5,594 632.0,600 632.5,601 633.0,606 633.5,589 634.0,590 634.5,608 635.0,605 635.5,611 636.0,602 636.5,601 637.0,607 637.5,615 638.0,600 638.5,611 639.0,603 639.5,607 640.0,606 640.5,613 641.0,596 641.5,608 642.0,617 642.5,606 643.0,614 643.5,589 644.0,607 644.5,599 645.0,618 645.5,620 646.0,590 646.5,593 647.0,603 647.5,612 648.0,620 648.5,614 649.0,618 649.5,614 650.0,633 650.5,604 651.0,622 651.5,614 652.0,610 652.5,614 653.0,598 653.5,610 654.0,605 654.5,616 655.0,609 655.5,612 656.0,603 656.5,613 657.0,611 657.5,619 658.0,619 658.5,602 659.0,601 659.5,611 660.0,611 660.5,605 661.0,608 661.5,618 662.0,608 662.5,615 663.0,609 663.5,610 664.0,608 664.5,604 665.0,611 665.5,609 666.0,610 666.5,614 667.0,634 667.5,605 668.0,605 668.5,610 669.0,618 669.5,619 670.0,599 670.5,612 671.0,625 671.5,606 672.0,612 672.5,622 673.0,613 673.5,616 674.0,614 674.5,623 675.0,621 675.5,624 676.0,614 676.5,619 677.0,615 677.5,626 678.0,608 678.5,627 679.0,621 679.5,613 680.0,610 680.5,605 681.0,602 681.5,616 682.0,621 682.5,620 683.0,611 683.5,587 684.0,592 684.5,583 685.0,603 685.5,613 686.0,598 686.5,614 687.0,610 687.5,619 688.0,592 688.5,593 689.0,604 689.5,607 690.0,616 690.5,619 691.0,602 691.5,605 692.0,615 692.5,606 693.0,604 693.5,613 694.0,605 694.5,599 695.0,622 695.5,632 696.0,616 696.5,613 697.0,610 697.5,605 698.0,627 698.5,616 699.0,611 699.5,603 700.0,605 700.5,604 701.0,612 701.5,612 702.0,625 702.5,607 703.0,605 703.5,617 704.0,585 704.5,611 705.0,592 705.5,616 706.0,598 706.5,606 707.0,606 707.5,607 708.0,593 708.5,606 709.0,596 709.5,605 710.0,622 710.5,608 711.0,608 711.5,589 712.0,621 712.5,599 713.0,584 713.5,602 714.0,626 714.5,611 715.0,602 715.5,613 716.0,611 716.5,614 717.0,589 717.5,610 718.0,626 718.5,615 719.0,614 719.5,580 720.0,619 720.5,619 721.0,607 721.5,615 722.0,606 722.5,614 723.0,624 723.5,612 724.0,628 724.5,623 725.0,609 725.5,624 726.0,616 726.5,620 727.0,646 727.5,606 728.0,623 728.5,625 729.0,623 729.5,614 730.0,631 730.5,624 731.0,633 731.5,616 732.0,627 732.5,614 733.0,633 733.5,629 734.0,618 734.5,614 735.0,630 735.5,630 736.0,626 736.5,639 737.0,634 737.5,622 738.0,634 738.5,623 739.0,632 739.5,619 740.0,623 740.5,619 741.0,619 741.5,620 742.0,618 742.5,611 743.0,624 743.5,603 744.0,611 744.5,613 745.0,643 745.5,618 746.0,610 746.5,619 747.0,616 747.5,611 748.0,623 748.5,635 749.0,614 749.5,596 750.0,613 750.5,593 751.0,609 751.5,635 752.0,615 752.5,602 753.0,616 753.5,620 754.0,614 754.5,611 755.0,612 755.5,606 756.0,613 756.5,617 757.0,612 757.5,620 758.0,612 758.5,617 759.0,615 759.5,601 760.0,619 760.5,617 761.0,596 761.5,621 762.0,622 762.5,613 763.0,643 763.5,605 764.0,611 764.5,626 765.0,618 765.5,619 766.0,616 766.5,604 767.0,611 767.5,610 768.0,603 768.5,592 769.0,614 769.5,629 770.0,616 770.5,607 771.0,623 771.5,625 772.0,618 772.5,631 773.0,615 773.5,610 774.0,604 774.5,611 775.0,615 775.5,610 776.0,619 776.5,611 777.0,608 777.5,602 778.0,607 778.5,623 779.0,613 779.5,634 780.0,587 780.5,609 781.0,625 781.5,618 782.0,599 782.5,599 783.0,618 783.5,611 784.0,626 784.5,614 785.0,600 785.5,613 786.0,607 786.5,630 787.0,627 787.5,601 788.0,624 788.5,597 789.0,620 789.5,610 790.0,630 790.5,619 791.0,620 791.5,613 792.0,609 792.5,631 793.0,626 793.5,622 794.0,614 794.5,610 795.0,642 795.5,618 796.0,620 796.5,626 797.0,638 797.5,602 798.0,615 798.5,639 799.0,612 799.5,625 800.0,632 800.5,604 801.0,616 801.5,621 802.0,611 802.5,610 803.0,615 803.5,615 804.0,611 804.5,612 805.0,601 805.5,617 806.0,613 806.5,602 807.0,620 807.5,627 808.0,609 808.5,611 809.0,612 809.5,592 810.0,598 810.5,615 811.0,609 811.5,608 812.0,610 812.5,621 813.0,580 813.5,597 814.0,618 814.5,609 815.0,600 815.5,606 816.0,600 816.5,611 817.0,610 817.5,602 818.0,606 818.5,588 819.0,600 819.5,609 820.0,618 820.5,604 821.0,618 821.5,620 822.0,625 822.5,623 823.0,607 823.5,621 824.0,604 824.5,616 825.0,603 825.5,602 826.0,611 826.5,601 827.0,615 827.5,609 828.0,607 828.5,608 829.0,613 829.5,620 830.0,606 830.5,614 831.0,602 831.5,614 832.0,601 832.5,609 833.0,609 833.5,616 834.0,602 834.5,613 835.0,614 835.5,607 836.0,617 836.5,616 837.0,611 837.5,616 838.0,624 838.5,619 839.0,591 839.5,611 840.0,612 840.5,613 841.0,615 841.5,626 842.0,612 842.5,628 843.0,625 843.5,607 844.0,616 844.5,613 845.0,621 845.5,629 846.0,623 846.5,601 847.0,623 847.5,633 848.0,633 848.5,625 849.0,620 849.5,630 850.0,619 850.5,622 851.0,626 851.5,615 852.0,631 852.5,610 853.0,635 853.5,616 854.0,619 854.5,620 855.0,625 855.5,627 856.0,622 856.5,604 857.0,621 857.5,597 858.0,621 858.5,616 859.0,636 859.5,614 860.0,633 860.5,617 861.0,627 861.5,620 862.0,624 862.5,605 863.0,625 863.5,638 864.0,596 864.5,615 865.0,603 865.5,613 866.0,623 866.5,603 867.0,601 867.5,596 868.0,615 868.5,613 869.0,592 869.5,616 870.0,613 870.5,620 871.0,620 871.5,609 872.0,596 872.5,614 873.0,595 873.5,605 874.0,600 874.5,617 875.0,605 875.5,605 876.0,602 876.5,607 877.0,603 877.5,607 878.0,607 878.5,601 879.0,602 879.5,602 880.0,601 880.5,602 881.0,600 881.5,603 882.0,607 882.5,598 883.0,608 883.5,611 884.0,616 884.5,611 885.0,612 885.5,611 886.0,616 886.5,626 887.0,615 887.5,615 888.0,618 888.5,618 889.0,609 889.5,619 890.0,620 890.5,616 891.0,621 891.5,598 892.0,621 892.5,609 893.0,626 893.5,609 894.0,621 894.5,630 895.0,626 895.5,616 896.0,609 896.5,616 897.0,629 897.5,622 898.0,627 898.5,623 899.0,622 899.5,620 900.0,625 900.5,619 901.0,629 901.5,615 902.0,610 902.5,624 903.0,616 903.5,629 904.0,618 904.5,597 905.0,615 905.5,621 906.0,611 906.5,621 907.0,613 907.5,604 908.0,621 908.5,611 909.0,629 909.5,613 910.0,609 910.5,624 911.0,626 911.5,622 912.0,620 912.5,616 913.0,615 913.5,613 914.0,619 914.5,612 915.0,612 915.5,630 916.0,618 916.5,614 917.0,618 917.5,607 918.0,618 918.5,612 919.0,607 919.5,608 920.0,611 920.5,619 921.0,598 921.5,610 922.0,624 922.5,621 923.0,621 923.5,631 924.0,604 924.5,593 925.0,595 925.5,592 926.0,607 926.5,605 927.0,603 927.5,612 928.0,605 928.5,586 929.0,600 929.5,591 930.0,625 930.5,616 931.0,618 931.5,597 932.0,602 932.5,611 933.0,606 933.5,600 934.0,622 934.5,617 935.0,620 935.5,622 936.0,621 936.5,606 937.0,621 937.5,618 938.0,620 938.5,620 939.0,612 939.5,613 940.0,606 940.5,598 941.0,607 941.5,592 942.0,597 942.5,601 943.0,604 943.5,614 944.0,618 944.5,609 945.0,595 945.5,600 946.0,608 946.5,613 947.0,620 947.5,602 948.0,601 948.5,622 949.0,600 949.5,606 950.0,590 950.5,604 951.0,617 951.5,601 952.0,615 952.5,613 953.0,611 953.5,611 954.0,609 954.5,616 955.0,610 955.5,598 956.0,613 956.5,604 957.0,616 957.5,579 958.0,624 958.5,617 959.0,586 959.5,615 960.0,611 960.5,611 961.0,625 961.5,628 962.0,608 962.5,616 963.0,616 963.5,619 964.0,621 964.5,611 965.0,627 965.5,607 966.0,610 966.5,618 967.0,612 967.5,599 968.0,618 968.5,616 969.0,617 969.5,612 970.0,619 970.5,610 971.0,614 971.5,613 972.0,631 972.5,618 973.0,623 973.5,618 974.0,617 974.5,600 975.0,627 975.5,610 976.0,611 976.5,620 977.0,626 977.5,632 978.0,612 978.5,616 979.0,622 979.5,623 980.0,618 980.5,615 981.0,610 981.5,608 982.0,592 982.5,615 983.0,618 983.5,614 984.0,611 984.5,610 985.0,625 985.5,613 986.0,615 986.5,615" fill="none" stroke="#ff0000" stroke-width="7.2" stroke-linejoin="bevel" shape-rendering="crispEdges"/>
<polyline points="107.5,56 108.0,91 108.5,127 109.0,163 109.5,196 110.0,232 110.5,264 111.0,297 111.5,326 112.0,358 112.5,389 113.0,414 113.5,438 114.0,458 114.5,486 115.0,490 115.5,515 116.0,514 116.5,548 117.0,578 117.5,538 118.0,561 118.5,545 119.0,563 119.5,557 120.0,544 120.5,550 121.0,573 121.5,580 122.0,567 122.5,592 123.0,573 123.5,594 124.0,564 124.5,587 125.0,538 125.5,570 126.0,571 126.5,595 127.0,554 127.5,563 128.0,573 128.5,566 129.0,572 129.5,579 130.0,563 130.5,547 131.0,569 131.5,554 132.0,563 132.5,568 133.0,566 133.5,561 134.0,564 134.5,553 135.0,569 135.5,551 136.0,570 136.5,569 137.0,583 137.5,592 138.0,580 138.5,573 139.0,562 139.5,563 140.0,567 140.5,562 141.0,554 141.5,563 142.0,558 142.5,562 143.0,559 143.5,571 144.0,554 144.5,572 145.0,565 145.5,577 146.0,566 146.5,575 147.0,561 147.5,551 148.0,570 148.5,562 149.0,572 149.5,570 150.0,563 150.5,567 151.0,566 151.5,560 152.0,569 152.5,563 153.0,566 153.5,566 154.0,568 154.5,575 155.0,569 155.5,565 156.0,559 156.5,570 157.0,555 157.5,568 158.0,555 158.5,559 159.0,564 159.5,566 160.0,565 160.5,557 161.0,558 161.5,557 162.0,556 162.5,554 163.0,562 163.5,571 164.0,568 164.5,560 165.0,563 165.5,558 166.0,556 166.5,567 167.0,572 167.5,542 168.0,559 168.5,541 169.0,567 169.5,535 170.0,569 170.5,551 171.0,553 171.5,558 172.0,543 172.5,531 173.0,546 173.5,543 174.0,552 174.5,560 175.0,554 175.5,551 176.0,558 176.5,559 177.0,545 177.5,564 178.0,545 178.5,566 179.0,548 179.5,559 180.0,546 180.5,554 181.0,553 181.5,553 182.0,559 182.5,565 183.0,569 183.5,560 184.0,573 184.5,565 185.0,565 185.5,564 186.0,570 186.5,555 187.0,565 187.5,559 188.0,571 188.5,551 189.0,561 189.5,552 190.0,546 190.5,555 191.0,569 191.5,551 192.0,551 192.5,551 193.0,556 193.5,545 194.0,545 194.5,538 195.0,542 195.5,542 196.0,558 196.5,538 197.0,567 197.5,541 198.0,525 198.5,563 199.0,544 199.5,560 200.0,554 200.5,548 201.0,547 201.5,537 202.0,560 202.5,558 203.0,547 203.5,562 204.0,546 204.5,556 205.0,554 205.5,556 206.0,557 206.5,553 207.0,545 207.5,546 208.0,549 208.5,539 209.0,553 209.5,539 210.0,558 210.5,546 211.0,551 211.5,566 212.0,535 212.5,549 213.0,552 213.5,544 214.0,550 214.5,546 215.0,544 215.5,558 216.0,540 216.5,554 217.0,542 217.5,563 218.0,546 218.5,551 219.0,563 219.5,555 220.0,542 220.5,541 221.0,554 221.5,546 222.0,551 222.5,553 223.0,535 223.5,558 224.0,532 224.5,548 225.0,557 225.5,561 226.0,544 226.5,547 227.0,540 227.5,546 228.0,553 228.5,544 229.0,532 229.5,527 230.0,523 230.5,539 231.0,538 231.5,559 232.0,525 232.5,537 233.0,538 233.5,533 234.0,552 234.5,549 235.0,554 235.5,546 236.0,551 236.5,547 237.0,553 237.5,546 238.0,569 238.5,539 239.0,544 239.5,541 240.0,571 240.5,576 241.0,556 241.5,537 242.0,563 242.5,554 243.0,540 243.5,537 244.0,557 244.5,525 245.0,558 245.5,558 246.0,549 246.5,545 247.0,555 247.5,538 248.0,549 248.5,543 249.0,553 249.5,561 250.0,556 250.5,571 251.0,548 251.5,557 252.0,553 252.5,547 253.0,546 253.5,549 254.0,553 254.5,545 255.0,572 255.5,542 256.0,546 256.5,552 257.0,564 257.5,551 258.0,534 258.5,559 259.0,562 259.5,546 260.0,541 260.5,553 261.0,549 261.5,542 262.0,546 262.5,552 263.0,563 263.5,562 264.0,543 264.5,552 265.0,547 265.5,536 266.0,544 266.5,543 267.0,552 267.5,549 268.0,551 268.5,555 269.0,548 269.5,542 270.0,561 270.5,549 271.0,558 271.5,554 272.0,546 272.5,528 273.0,540 273.5,545 274.0,554 274.5,549 275.0,541 275.5,538 276.0,549 276.5,540 277.0,526 277.5,539 278.0,527 278.5,526 279.0,548 279.5,533 280.0,526 280.5,531 281.0,546 281.5,538 282.0,522 282.5,539 283.0,543 283.5,540 284.0,504 284.5,509 285.0,529 285.5,548 286.0,552 286.5,527 287.0,541 287.5,521 288.0,542 288.5,555 289.0,534 289.5,533 290.0,534 290.5,524 291.0,522 291.5,529 292.0,535 292.5,515 293.0,528 293.5,541 294.0,542 294.5,548 295.0,527 295.5,533 296.0,546 296.5,527 297.0,536 297.5,539 298.0,524 298.5,545 299.0,527 299.5,533 300.0,557 300.5,540 301.0,528 301.5,541 302.0,546 302.5,548 303.0,529 303.5,539 304.0,547 304.5,559 305.0,547 305.5,552 306.0,540 306.5,558 307.0,547 307.5,559 308.0,545 308.5,541 309.0,551 309.5,554 310.0,562 310.5,547 311.0,538 311.5,553 312.0,537 312.5,526 313.0,552 313.5,538 314.0,547 314.5,540 315.0,527 315.5,563 316.0,558 316.5,564 317.0,538 317.5,543 318.0,545 318.5,549 319.0,549 319.5,554 320.0,554 320.5,540 321.0,551 321.5,541 322.0,551 322.5,537 323.0,542 323.5,571 324.0,543 324.5,568 325.0,540 325.5,548 326.0,549 326.5,550 327.0,569 327.5,528 328.0,516 328.5,541 329.0,541 329.5,549 330.0,545 330.5,525 331.0,532 331.5,544 332.0,524 332.5,538 333.0,538 333.5,538 334.0,526 334.5,551 335.0,546 335.5,554 336.0,543 336.5,542 337.0,544 337.5,529 338.0,532 338.5,548 339.0,568 339.5,539 340.0,534 340.5,531 341.0,548 341.5,516 342.0,542 342.5,545 343.0,544 343.5,555 344.0,548 344.5,537 345.0,539 345.5,549 346.0,534 346.5,530 347.0,546 347.5,553 348.0,555 348.5,545 349.0,540 349.5,546 350.0,546 350.5,551 351.0,550 351.5,546 352.0,556 352.5,544 353.0,547 353.5,546 354.0,546 354.5,546 355.0,549 355.5,547 356.0,550 356.5,547 357.0,540 357.5,540 358.0,547 358.5,542 359.0,557 359.5,557 360.0,553 360.5,538 361.0,555 361.5,545 362.0,545 362.5,533 363.0,541 363.5,552 364.0,548 364.5,550 365.0,548 365.5,568 366.0,556 366.5,552 367.0,544 367.5,561 368.0,556 368.5,557 369.0,560 369.5,545 370.0,564 370.5,560 371.0,566 371.5,565 372.0,554 372.5,551 373.0,562 373.5,557 374.0,557 374.5,559 375.0,550 375.5,555 376.0,560 376.5,556 377.0,536 377.5,548 378.0,543 378.5,542 379.0,561 379.5,550 380.0,546 380.5,557 381.0,561 381.5,536 382.0,554 382.5,555 383.0,549 383.5,536 384.0,547 384.5,522 385.0,514 385.5,545 386.0,553 386.5,542 387.0,521 387.5,542 388.0,541 388.5,560 389.0,548 389.5,556 390.0,565 390.5,551 391.0,539 391.5,546 392.0,533 392.5,558 393.0,550 393.5,538 394.0,538 394.5,550 395.0,556 395.5,561 396.0,545 396.5,544 397.0,550 397.5,549 398.0,558 398.5,539 399.0,530 399.5,537 400.0,540 400.5,543 401.0,541 401.5,521 402.0,545 402.5,549 403.0,545 403.5,548 404.0,531 404.5,540 405.0,555 405.5,555 406.0,532 406.5,542 407.0,526 407.5,548 408.0,549 408.5,544 409.0,541 409.5,545 410.0,547 410.5,555 411.0,540 411.5,548 412.0,537 412.5,546 413.0,541 413.5,542 414.0,544 414.5,538 415.0,544 415.5,545 416.0,545 416.5,554 417.0,552 417.5,537 418.0,551 418.5,544 419.0,560 419.5,549 420.0,545 420.5,555 421.0,544 421.5,547 422.0,553 422.5,531 423.0,539 423.5,516 424.0,534 424.5,547 425.0,537 425.5,534 426.0,556 426.5,544 427.0,542 427.5,542 428.0,539 428.5,554 429.0,558 429.5,547 430.0,534 430.5,541 431.0,541 431.5,549 432.0,540 432.5,553 433.0,540 433.5,528 434.0,523 434.5,543 435.0,550 435.5,539 436.0,544 436.5,549 437.0,535 437.5,556 438.0,577 438.5,551 439.0,558 439.5,549 440.0,546 440.5,538 441.0,544 441.5,538 442.0,536 442.5,545 443.0,529 443.5,553 444.0,544 444.5,532 445.0,545 445.5,547 446.0,545 446.5,536 447.0,536 447.5,532 448.0,535 448.5,540 449.0,547 449.5,537 450.0,545 450.5,531 451.0,549 451.5,523 452.0,556 452.5,533 453.0,555 453.5,539 454.0,542 454.5,540 455.0,542 455.5,538 456.0,539 456.5,537 457.0,544 457.5,536 458.0,529 458.5,528 459.0,555 459.5,537 460.0,545 460.5,548 461.0,551 461.5,550 462.0,540 462.5,540 463.0,538 463.5,530 464.0,527 464.5,530 465.0,552 465.5,539 466.0,537 466.5,535 467.0,528 467.5,552 468.0,550 468.5,527 469.0,542 469.5,531 470.0,561 470.5,542 471.0,541 471.5,537 472.0,542 472.5,564 473.0,530 473.5,540 474.0,535 474.5,546 475.0,543 475.5,536 476.0,558 476.5,539 477.0,541 477.5,546 478.0,550 478.5,548 479.0,538 479.5,535 480.0,544 480.5,536 481.0,552 481.5,553 482.0,544 482.5,525 483.0,542 483.5,559 484.0,520 484.5,542 485.0,545 485.5,542 486.0,530 486.5,549 487.0,530 487.5,528 488.0,555 488.5,535 489.0,536 489.5,534 490.0,535 490.5,539 491.0,538 491.5,550 492.0,537 492.5,545 493.0,539 493.5,518 494.0,562 494.5,547 495.0,536 495.5,522 496.0,530 496.5,547 497.0,542 497.5,523 498.0,516 498.5,526 499.0,531 499.5,521 500.0,532 500.5,543 501.0,534 501.5,522 502.0,567 502.5,550 503.0,536 503.5,536 504.0,545 504.5,547 505.0,540 505.5,542 506.0,534 506.5,533 507.0,536 507.5,546 508.0,533 508.5,548 509.0,542 509.5,541 510.0,543 510.5,530 511.0,543 511.5,538 512.0,536 512.5,550 513.0,545 513.5,547 514.0,542 514.5,532 515.0,550 515.5,543 516.0,543 516.5,536 517.0,530 517.5,546 518.0,540 518.5,538 519.0,546 519.5,543 520.0,542 520.5,567 521.0,532 521.5,550 522.0,548 522.5,537 523.0,545 523.5,537 524.0,544 524.5,532 525.0,545 525.5,516 526.0,523 526.5,550 527.0,549 527.5,552 528.0,545 528.5,543 529.0,549 529.5,536 530.0,530 530.5,537 531.0,551 531.5,537 532.0,546 532.5,538 533.0,537 533.5,526 534.0,540 534.5,532 535.0,539 535.5,538 536.0,548 536.5,550 537.0,531 537.5,538 538.0,543 538.5,538 539.0,549 539.5,546 540.0,538 540.5,545 541.0,548 541.5,540 542.0,542 542.5,545 543.0,547 543.5,548 544.0,538 544.5,546 545.0,534 545.5,542 546.0,548 546.5,536 547.0,554 547.5,548 548.0,562 548.5,543 549.0,547 549.5,549 550.0,555 550.5,538 551.0,560 551.5,540 552.0,546 552.5,539 553.0,562 553.5,546 554.0,564 554.5,585 555.0,541 555.5,540 556.0,557 556.5,547 557.0,549 557.5,543 558.0,543 558.5,540 559.0,534 559.5,569 560.0,538 560.5,532 561.0,533 561.5,538 562.0,550 562.5,544 563.0,540 563.5,543 564.0,546 564.5,539 565.0,541 565.5,539 566.0,552 566.5,561 567.0,547 567.5,552 568.0,563 568.5,546 569.0,538 569.5,555 570.0,557 570.5,543 571.0,554 571.5,553 572.0,566 572.5,571 573.0,565 573.5,542 574.0,550 574.5,540 575.0,540 575.5,571 576.0,542 576.5,542 577.0,551 577.5,543 578.0,539 578.5,545 579.0,546 579.5,554 580.0,545 580.5,546 581.0,548 581.5,552 582.0,564 582.5,541 583.0,547 583.5,530 584.0,545 584.5,536 585.0,555 585.5,543 586.0,545 586.5,548 587.0,541 587.5,543 588.0,551 588.5,543 589.0,545 589.5,552 590.0,542 590.5,550 591.0,545 591.5,539 592.0,543 592.5,525 593.0,538 593.5,540 594.0,551 594.5,538 595.0,536 595.5,533 596.0,556 596.5,541 597.0,538 597.5,540 598.0,548 598.5,540 599.0,545 599.5,541 600.0,547 600.5,553 601.0,539 601.5,540 602.0,538 602.5,542 603.0,544 603.5,539 604.0,541 604.5,536 605.0,521 605.5,536 606.0,529 606.5,542 607.0,527 607.5,534 608.0,546 608.5,552 609.0,537 609.5,512 610.0,544 610.5,524 611.0,529 611.5,531 612.0,531 612.5,538 613.0,535 613.5,552 614.0,537 614.5,537 615.0,536 615.5,546 616.0,532 616.5,545 617.0,542 617.5,544 618.0,543 618.5,544 619.0,543 619.5,549 620.0,544 620.5,544 621.0,542 621.5,521 622.0,543 622.5,535 623.0,540 623.5,549 624.0,546 624.5,533 625.0,544 625.5,525 626.0,536 626.5,543 627.0,535 627.5,542 628.0,534 628.5,539 629.0,538 629.5,539 630.0,536 630.5,542 631.0,540 631.5,536 632.0,545 632.5,551 633.0,539 633.5,537 634.0,543 634.5,546 635.0,540 635.5,544 636.0,544 636.5,548 637.0,547 637.5,540 638.0,544 638.5,540 639.0,548 639.5,538 640.0,539 640.5,537 641.0,530 641.5,537 642.0,535 642.5,538 643.0,541 643.5,528 644.0,539 644.5,534 645.0,556 645.5,536 646.0,550 646.5,555 647.0,543 647.5,552 648.0,554 648.5,539 649.0,552 649.5,546 650.0,543 650.5,546 651.0,534 651.5,543 652.0,543 652.5,546 653.0,544 653.5,549 654.0,550 654.5,552 655.0,551 655.5,544 656.0,537 656.5,540 657.0,545 657.5,550 658.0,558 658.5,550 659.0,548 659.5,559 660.0,544 660.5,545 661.0,544 661.5,540 662.0,545 662.5,545 663.0,537 663.5,551 664.0,555 664.5,547 665.0,547 665.5,559 666.0,545 666.5,552 667.0,555 667.5,549 668.0,545 668.5,548 669.0,550 669.5,542 670.0,550 670.5,549 671.0,543 671.5,550 672.0,549 672.5,551 673.0,550 673.5,547 674.0,542 674.5,548 675.0,546 675.5,542 676.0,548 676.5,531 677.0,540 677.5,562 678.0,521 678.5,526 679.0,533 679.5,538 680.0,527 680.5,532 681.0,541 681.5,549 682.0,527 682.5,528 683.0,530 683.5,550 684.0,538 684.5,535 685.0,554 685.5,529 686.0,542 686.5,545 687.0,534 687.5,566 688.0,540 688.5,539 689.0,541 689.5,535 690.0,549 690.5,537 691.0,537 691.5,532 692.0,540 692.5,534 693.0,543 693.5,541 694.0,536 694.5,533 695.0,534 695.5,543 696.0,544 696.5,542 697.0,542 697.5,538 698.0,539 698.5,552 699.0,536 699.5,545 700.0,555 700.5,546 701.0,518 701.5,542 702.0,545 702.5,544 703.0,548 703.5,540 704.0,536 704.5,539 705.0,537 705.5,568 706.0,542 706.5,548 707.0,548 707.5,541 708.0,528 708.5,534 709.0,542 709.5,543 710.0,536 710.5,531 711.0,538 711.5,549 712.0,568 712.5,547 713.0,543 713.5,539 714.0,541 714.5,535 715.0,544 715.5,548 716.0,545 716.5,551 717.0,517 717.5,537 718.0,529 718.5,544 719.0,550 719.5,554 720.0,532 720.5,539 721.0,544 721.5,534 722.0,547 722.5,544 723.0,548 723.5,541 724.0,535 724.5,537 725.0,525 725.5,546 726.0,542 726.5,543 727.0,547 727.5,536 728.0,549 728.5,550 729.0,530 729.5,555 730.0,544 730.5,552 731.0,550 731.5,532 732.0,539 732.5,550 733.0,565 733.5,542 734.0,544 734.5,562 735.0,561 735.5,554 736.0,547 736.5,551 737.0,560 737.5,547 738.0,551 738.5,552 739.0,549 739.5,539 740.0,546 740.5,546 741.0,550 741.5,539 742.0,549 742.5,547 743.0,545 743.5,553 744.0,564 744.5,547 745.0,562 745.5,551 746.0,559 746.5,553 747.0,571 747.5,551 748.0,541 748.5,555 749.0,564 749.5,541 750.0,546 750.5,540 751.0,543 751.5,541 752.0,550 752.5,552 753.0,547 753.5,550 754.0,550 754.5,555 755.0,543 755.5,548 756.0,542 756.5,546 757.0,549 757.5,540 758.0,539 758.5,541 759.0,536 759.5,543 760.0,541 760.5,526 761.0,539 761.5,534 762.0,540 762.5,536 763.0,544 763.5,526 764.0,542 764.5,550 765.0,537 765.5,543 766.0,554 766.5,554 767.0,545 767.5,552 768.0,533 768.5,536 769.0,547 769.5,576 770.0,536 770.5,537 771.0,538 771.5,531 772.0,545 772.5,556 773.0,543 773.5,555 774.0,541 774.5,549 775.0,575 775.5,556 776.0,563 776.5,560 777.0,546 777.5,537 778.0,550 778.5,557 779.0,556 779.5,547 780.0,552 780.5,549 781.0,542 781.5,558 782.0,547 782.5,546 783.0,553 783.5,552 784.0,554 784.5,523 785.0,557 785.5,534 786.0,521 786.5,550 787.0,538 787.5,540 788.0,530 788.5,546 789.0,541 789.5,540 790.0,553 790.5,530 791.0,540 791.5,548 792.0,544 792.5,543 793.0,543 793.5,536 794.0,536 794.5,530 795.0,553 795.5,528 796.0,539 796.5,526 797.0,542 797.5,541 798.0,542 798.5,540 799.0,538 799.5,536 800.0,538 800.5,539 801.0,547 801.5,535 802.0,542 802.5,549 803.0,537 803.5,544 804.0,551 804.5,544 805.0,542 805.5,529 806.0,537 806.5,543 807.0,539 807.5,559 808.0,533 808.5,533 809.0,536 809.5,548 810.0,539 810.5,546 811.0,532 811.5,531 812.0,543 812.5,543 813.0,534 813.5,539 814.0,530 814.5,551 815.0,535 815.5,549 816.0,544 816.5,540 817.0,534 817.5,556 818.0,527 818.5,526 819.0,550 819.5,545 820.0,541 820.5,536 821.0,551 821.5,553 822.0,535 822.5,550 823.0,541 823.5,529 824.0,536 824.5,559 825.0,549 825.5,519 826.0,542 826.5,534 827.0,543 827.5,528 828.0,527 828.5,539 829.0,541 829.5,531 830.0,533 830.5,542 831.0,537 831.5,523 832.0,542 832.5,533 833.0,533 833.5,526 834.0,532 834.5,540 835.0,527 835.5,536 836.0,544 836.5,530 837.0,534 837.5,551 838.0,533 838.5,540 839.0,545 839.5,540 840.0,541 840.5,550 841.0,550 841.5,551 842.0,540 842.5,546 843.0,543 843.5,551 844.0,549 844.5,538 845.0,545 845.5,549 846.0,559 846.5,547 847.0,547 847.5,551 848.0,555 848.5,554 849.0,547 849.5,545 850.0,542 850.5,548 851.0,539 851.5,525 852.0,550 852.5,537 853.0,553 853.5,558 854.0,558 854.5,551 855.0,555 855.5,546 856.0,553 856.5,545 857.0,539 857.5,551 858.0,533 858.5,545 859.0,558 859.5,542 860.0,542 860.5,544 861.0,545 861.5,545 862.0,529 862.5,541 863.0,540 863.5,546 864.0,541 864.5,534 865.0,534 865.5,545 866.0,540 866.5,540 867.0,533 867.5,539 868.0,541 868.5,518 869.0,533 869.5,545 870.0,539 870.5,543 871.0,541 871.5,528 872.0,533 872.5,520 873.0,527 873.5,527 874.0,524 874.5,536 875.0,532 875.5,537 876.0,535 876.5,561 877.0,543 877.5,538 878.0,527 878.5,524 879.0,540 879.5,539 880.0,535 880.5,532 881.0,535 881.5,530 882.0,539 882.5,525 883.0,550 883.5,540 884.0,551 884.5,542 885.0,532 885.5,541 886.0,543 886.5,522 887.0,537 887.5,530 888.0,549 888.5,545 889.0,544 889.5,566 890.0,546 890.5,561 891.0,543 891.5,536 892.0,539 892.5,544 893.0,557 893.5,554 894.0,555 894.5,550 895.0,542 895.5,549 896.0,523 896.5,549 897.0,552 897.5,536 898.0,568 898.5,555 899.0,557 899.5,578 900.0,557 900.5,544 901.0,545 901.5,535 902.0,555 902.5,521 903.0,536 903.5,561 904.0,558 904.5,551 905.0,539 905.5,537 906.0,542 906.5,545 907.0,556 907.5,549 908.0,541 908.5,542 909.0,545 909.5,555 910.0,547 910.5,565 911.0,547 911.5,546 912.0,553 912.5,542 913.0,548 913.5,546 914.0,545 914.5,548 915.0,554 915.5,538 916.0,537 916.5,551 917.0,531 917.5,535 918.0,542 918.5,530 919.0,540 919.5,545 920.0,536 920.5,550 921.0,543 921.5,533 922.0,555 922.5,544 923.0,538 923.5,544 924.0,541 924.5,546 925.0,543 925.5,538 926.0,528 926.5,539 927.0,534 927.5,535 928.0,558 928.5,538 929.0,534 929.5,534 930.0,543 930.5,538 931.0,539 931.5,537 932.0,550 932.5,543 933.0,533 933.5,537 934.0,537 934.5,540 935.0,529 935.5,543 936.0,542 936.5,537 937.0,541 937.5,546 938.0,539 938.5,533 939.0,530 939.5,538 940.0,549 940.5,554 941.0,533 941.5,561 942.0,532 942.5,525 943.0,523 943.5,534 944.0,536 944.5,525 945.0,523 945.5,533 946.0,536 946.5,532 947.0,540 947.5,542 948.0,530 948.5,546 949.0,529 949.5,540 950.0,530 950.5,537 951.0,549 951.5,544 952.0,544 952.5,542 953.0,535 953.5,544 954.0,535 954.5,545 955.0,537 955.5,530 956.0,539 956.5,540 957.0,540 957.5,537 958.0,529 958.5,548 959.0,567 959.5,546 960.0,534 960.5,520 961.0,540 961.5,550 962.0,538 962.5,556 963.0,544 963.5,553 964.0,542 964.5,545 965.0,549 965.5,544 966.0,560 966.5,535 967.0,542 967.5,547 968.0,557 968.5,540 969.0,544 969.5,544 970.0,555 970.5,551 971.0,546 971.5,544 972.0,545 972.5,547 973.0,531 973.5,543 974.0,541 974.5,546 975.0,551 975.5,538 976.0,544 976.5,545 977.0,536 977.5,540 978.0,538 978.5,549 979.0,551 979.5,541 980.0,546 980.5,542 981.0,549 981.5,544 982.0,547 982.5,542 983.0,541 983.5,548 984.0,539 984.5,536 985.0,534 985.5,545 986.0,543 986.5,542" fill="none" stroke="#0000ff" stroke-width="7.2" stroke-linejoin="bevel" shape-rendering="crispEdges" stroke-dasharray="23.2 7.4 7.6 7.4"/>
<polyline points="107.5,56 108.0,82 108.5,107 109.0,132 109.5,158 110.0,183 110.5,207 111.0,229 111.5,251 112.0,276 112.5,291 113.0,317 113.5,332 114.0,349 114.5,366 115.0,359 115.5,381 116.0,397 116.5,403 117.0,428 117.5,420 118.0,444 118.5,436 119.0,462 119.5,440 120.0,446 120.5,453 121.0,466 121.5,455 122.0,452 122.5,466 123.0,459 123.5,452 124.0,450 124.5,431 125.0,450 125.5,448 126.0,495 126.5,442 127.0,456 127.5,451 128.0,466 128.5,474 129.0,461 129.5,445 130.0,450 130.5,467 131.0,467 131.5,461 132.0,453 132.5,469 133.0,445 133.5,466 134.0,450 134.5,466 135.0,431 135.5,473 136.0,451 136.5,470 137.0,457 137.5,449 138.0,448 138.5,456 139.0,468 139.5,456 140.0,469 140.5,458 141.0,441 141.5,443 142.0,462 142.5,445 143.0,456 143.5,457 144.0,459 144.5,455 145.0,467 145.5,449 146.0,459 146.5,448 147.0,439 147.5,466 148.0,473 148.5,460 149.0,459 149.5,457 150.0,499 150.5,473 151.0,478 151.5,452 152.0,476 152.5,450 153.0,482 153.5,470 154.0,495 154.5,466 155.0,485 155.5,481 156.0,473 156.5,473 157.0,480 157.5,474 158.0,472 158.5,477 159.0,491 159.5,458 160.0,453 160.5,453 161.0,471 161.5,477 162.0,458 162.5,480 163.0,464 163.5,458 164.0,461 164.5,477 165.0,468 165.5,452 166.0,478 166.5,441 167.0,459 167.5,447 168.0,448 168.5,457 169.0,463 169.5,443 170.0,464 170.5,453 171.0,449 171.5,456 172.0,446 172.5,457 173.0,451 173.5,461 174.0,482 174.5,446 175.0,458 175.5,441 176.0,454 176.5,456 177.0,442 177.5,466 178.0,464 178.5,480 179.0,436 179.5,462 180.0,460 180.5,472 181.0,469 181.5,479 182.0,468 182.5,468 183.0,448 183.5,465 184.0,460 184.5,446 185.0,458 185.5,468 186.0,467 186.5,461 187.0,465 187.5,486 188.0,448 188.5,432 189.0,438 189.5,454 190.0,464 190.5,459 191.0,440 191.5,469 192.0,430 192.5,452 193.0,423 193.5,432 194.0,416 194.5,454 195.0,456 195.5,471 196.0,447 196.5,476 197.0,458 197.5,446 198.0,461 198.5,441 199.0,455 199.5,441 200.0,464 200.5,445 201.0,453 201.5,452 202.0,445 202.5,470 203.0,456 203.5,454 204.0,452 204.5,456 205.0,455 205.5,445 206.0,447 206.5,439 207.0,445 207.5,445 208.0,452 208.5,446 209.0,470 209.5,449 210.0,443 210.5,471 211.0,435 211.5,447 212.0,442 212.5,443 213.0,446 213.5,448 214.0,444 214.5,454 215.0,437 215.5,448 216.0,457 216.5,457 217.0,448 217.5,458 218.0,453 218.5,446 219.0,452 219.5,459 220.0,441 220.5,445 221.0,454 221.5,446 222.0,451 222.5,456 223.0,463 223.5,445 224.0,440 224.5,448 225.0,445 225.5,436 226.0,448 226.5,440 227.0,449 227.5,435 228.0,442 228.5,432 229.0,430 229.5,433 230.0,451 230.5,448 231.0,449 231.5,443 232.0,447 232.5,435 233.0,441 233.5,446 234.0,432 234.5,450 235.0,453 235.5,453 236.0,425 236.5,445 237.0,458 237.5,446 238.0,453 238.5,458 239.0,466 239.5,449 240.0,448 240.5,434 241.0,439 241.5,451 242.0,458 242.5,451 243.0,447 243.5,466 244.0,441 244.5,422 245.0,437 245.5,444 246.0,438 246.5,448 247.0,447 247.5,449 248.0,447 248.5,434 249.0,454 249.5,442 250.0,439 250.5,452 251.0,432 251.5,447 252.0,434 252.5,437 253.0,420 253.5,438 254.0,444 254.5,444 255.0,459 255.5,425 256.0,454 256.5,442 257.0,442 257.5,455 258.0,451 258.5,445 259.0,446 259.5,438 260.0,447 260.5,458 261.0,441 261.5,451 262.0,454 262.5,458 263.0,444 263.5,452 264.0,440 264.5,443 265.0,450 265.5,451 266.0,466 266.5,447 267.0,437 267.5,442 268.0,449 268.5,443 269.0,452 269.5,447 270.0,438 270.5,441 271.0,450 271.5,410 272.0,444 272.5,442 273.0,424 273.5,470 274.0,445 274.5,434 275.0,420 275.5,420 276.0,438 276.5,455 277.0,435 277.5,434 278.0,420 278.5,462 279.0,423 279.5,410 280.0,421 280.5,424 281.0,435 281.5,445 282.0,434 282.5,430 283.0,426 283.5,437 284.0,430 284.5,443 285.0,417 285.5,450 286.0,430 286.5,449 287.0,418 287.5,439 288.0,434 288.5,440 289.0,435 289.5,439 290.0,432 290.5,429 291.0,457 291.5,462 292.0,430 292.5,433 293.0,471 293.5,436 294.0,447 294.5,445 295.0,437 295.5,458 296.0,447 296.5,425 297.0,425 297.5,439 298.0,421 298.5,443 299.0,438 299.5,429 300.0,440 300.5,430 301.0,434 301.5,438 302.0,439 302.5,438 303.0,446 303.5,423 304.0,426 304.5,426 305.0,443 305.5,445 306.0,433 306.5,437 307.0,432 307.5,436 308.0,427 308.5,427 309.0,439 309.5,438 310.0,446 310.5,436 311.0,442 311.5,439 312.0,439 312.5,438 313.0,442 313.5,427 314.0,411 314.5,430 315.0,437 315.5,436 316.0,434 316.5,427 317.0,449 317.5,441 318.0,442 318.5,425 319.0,434 319.5,449 320.0,435 320.5,446 321.0,447 321.5,426 322.0,443 322.5,432 323.0,440 323.5,458 324.0,442 324.5,446 325.0,434 325.5,454 326.0,435 326.5,478 327.0,454 327.5,443 328.0,452 328.5,430 329.0,446 329.5,429 330.0,431 330.5,439 331.0,444 331.5,437 332.0,444 332.5,438 333.0,393 333.5,443 334.0,457 334.5,423 335.0,438 335.5,442 336.0,434 336.5,425 337.0,423 337.5,435 338.0,431 338.5,427 339.0,423 339.5,427 340.0,438 340.5,428 341.0,424 341.5,408 342.0,477 342.5,437 343.0,440 343.5,454 344.0,436 344.5,449 345.0,452 345.5,476 346.0,433 346.5,434 347.0,454 347.5,436 348.0,420 348.5,444 349.0,440 349.5,445 350.0,437 350.5,442 351.0,427 351.5,441 352.0,451 352.5,442 353.0,459 353.5,447 354.0,444 354.5,434 355.0,438 355.5,439 356.0,443 356.5,426 357.0,434 357.5,441 358.0,434 358.5,449 359.0,437 359.5,446 360.0,437 360.5,443 361.0,437 361.5,439 362.0,452 362.5,442 363.0,435 363.5,443 364.0,438 364.5,448 365.0,439 365.5,445 366.0,444 366.5,445 367.0,437 367.5,438 368.0,448 368.5,438 369.0,437 369.5,440 370.0,441 370.5,433 371.0,438 371.5,430 372.0,442 372.5,443 373.0,443 373.5,449 374.0,422 374.5,428 375.0,447 375.5,448 376.0,448 376.5,449 377.0,434 377.5,450 378.0,449 378.5,442 379.0,438 379.5,428 380.0,439 380.5,434 381.0,455 381.5,437 382.0,444 382.5,438 383.0,438 383.5,445 384.0,442 384.5,476 385.0,454 385.5,438 386.0,446 386.5,432 387.0,435 387.5,452 388.0,444 388.5,448 389.0,446 389.5,429 390.0,447 390.5,446 391.0,444 391.5,435 392.0,454 392.5,436 393.0,449 393.5,445 394.0,460 394.5,439 395.0,444 395.5,432 396.0,435 396.5,426 397.0,455 397.5,440 398.0,443 398.5,440 399.0,447 399.5,452 400.0,452 400.5,439 401.0,439 401.5,437 402.0,441 402.5,451 403.0,442 403.5,439 404.0,442 404.5,436 405.0,444 405.5,440 406.0,455 406.5,445 407.0,441 407.5,435 408.0,453 408.5,453 409.0,429 409.5,448 410.0,426 410.5,455 411.0,431 411.5,458 412.0,430 412.5,489 413.0,421 413.5,436 414.0,444 414.5,446 415.0,428 415.5,452 416.0,453 416.5,424 417.0,422 417.5,436 418.0,464 418.5,440 419.0,444 419.5,444 420.0,426 420.5,465 421.0,405 421.5,433 422.0,452 422.5,433 423.0,450 423.5,445 424.0,428 424.5,427 425.0,431 425.5,449 426.0,447 426.5,448 427.0,452 427.5,417 428.0,440 428.5,437 429.0,439 429.5,432 430.0,441 430.5,442 431.0,441 431.5,433 432.0,429 432.5,439 433.0,433 433.5,428 434.0,433 434.5,434 435.0,430 435.5,422 436.0,427 436.5,442 437.0,435 437.5,442 438.0,445 438.5,404 439.0,421 439.5,432 440.0,446 440.5,445 441.0,432 441.5,421 442.0,438 442.5,434 443.0,435 443.5,453 444.0,452 444.5,436 445.0,444 445.5,439 446.0,439 446.5,441 447.0,424 447.5,444 448.0,442 448.5,443 449.0,441 449.5,438 450.0,414 450.5,447 451.0,432 451.5,432 452.0,428 452.5,443 453.0,416 453.5,428 454.0,429 454.5,441 455.0,448 455.5,431 456.0,432 456.5,439 457.0,435 457.5,441 458.0,434 458.5,431 459.0,427 459.5,428 460.0,434 460.5,418 461.0,421 461.5,426 462.0,430 462.5,429 463.0,433 463.5,426 464.0,425 464.5,434 465.0,434 465.5,425 466.0,410 466.5,429 467.0,401 467.5,435 468.0,437 468.5,439 469.0,430 469.5,434 470.0,426 470.5,438 471.0,440 471.5,430 472.0,437 472.5,439 473.0,426 473.5,442 474.0,446 474.5,455 475.0,432 475.5,426 476.0,446 476.5,422 477.0,432 477.5,434 478.0,436 478.5,437 479.0,451 479.5,440 480.0,436 480.5,430 481.0,429 481.5,440 482.0,429 482.5,441 483.0,436 483.5,435 484.0,437 484.5,434 485.0,429 485.5,443 486.0,440 486.5,436 487.0,437 487.5,438 488.0,442 488.5,435 489.0,430 489.5,432 490.0,425 490.5,414 491.0,438 491.5,428 492.0,444 492.5,427 493.0,418 493.5,423 494.0,425 494.5,423 495.0,430 495.5,422 496.0,413 496.5,418 497.0,420 497.5,422 498.0,424 498.5,439 499.0,428 499.5,433 500.0,440 500.5,433 501.0,446 501.5,429 502.0,451 502.5,424 503.0,420 503.5,437 504.0,439 504.5,457 505.0,422 505.5,421 506.0,432 506.5,432 507.0,431 507.5,409 508.0,443 508.5,436 509.0,434 509.5,424 510.0,456 510.5,437 511.0,418 511.5,436 512.0,448 512.5,437 513.0,438 513.5,440 514.0,433 514.5,433 515.0,428 515.5,444 516.0,450 516.5,454 517.0,437 517.5,443 518.0,435 518.5,446 519.0,442 519.5,441 520.0,438 520.5,433 521.0,434 521.5,431 522.0,444 522.5,438 523.0,446 523.5,439 524.0,440 524.5,432 525.0,457 525.5,437 526.0,434 526.5,435 527.0,439 527.5,444 528.0,437 528.5,442 529.0,440 529.5,443 530.0,451 530.5,448 531.0,417 531.5,423 532.0,444 532.5,462 533.0,449 533.5,431 534.0,444 534.5,454 535.0,443 535.5,441 536.0,430 536.5,448 537.0,445 537.5,456 538.0,459 538.5,427 539.0,433 539.5,433 540.0,468 540.5,438 541.0,441 541.5,430 542.0,435 542.5,430 543.0,423 543.5,414 544.0,440 544.5,422 545.0,415 545.5,463 546.0,413 546.5,426 547.0,426 547.5,444 548.0,455 548.5,445 549.0,445 549.5,440 550.0,454 550.5,444 551.0,412 551.5,435 552.0,428 552.5,436 553.0,451 553.5,430 554.0,469 554.5,450 555.0,437 555.5,444 556.0,442 556.5,448 557.0,439 557.5,429 558.0,448 558.5,442 559.0,445 559.5,413 560.0,438 560.5,433 561.0,436 561.5,439 562.0,434 562.5,440 563.0,431 563.5,454 564.0,439 564.5,436 565.0,426 565.5,440 566.0,417 566.5,434 567.0,427 567.5,437 568.0,408 568.5,440 569.0,431 569.5,444 570.0,454 570.5,431 571.0,414 571.5,418 572.0,420 572.5,422 573.0,425 573.5,425 574.0,428 574.5,436 575.0,431 575.5,435 576.0,432 576.5,441 577.0,435 577.5,464 578.0,427 578.5,427 579.0,445 579.5,431 580.0,434 580.5,450 581.0,451 581.5,439 582.0,452 582.5,448 583.0,435 583.5,437 584.0,441 584.5,439 585.0,447 585.5,435 586.0,444 586.5,444 587.0,462 587.5,443 588.0,462 588.5,422 589.0,459 589.5,463 590.0,453 590.5,448 591.0,451 591.5,439 592.0,441 592.5,452 593.0,464 593.5,446 594.0,445 594.5,450 595.0,440 595.5,446 596.0,445 596.5,440 597.0,441 597.5,447 598.0,447 598.5,449 599.0,446 599.5,446 600.0,426 600.5,428 601.0,429 601.5,444 602.0,443 602.5,449 603.0,439 603.5,434 604.0,441 604.5,428 605.0,429 605.5,436 606.0,425 606.5,437 607.0,429 607.5,435 608.0,435 608.5,440 609.0,439 609.5,421 610.0,434 610.5,427 611.0,433 611.5,430 612.0,441 612.5,425 613.0,437 613.5,442 614.0,430 614.5,432 615.0,431 615.5,435 616.0,442 616.5,426 617.0,441 617.5,429 618.0,430 618.5,454 619.0,418 619.5,434 620.0,423 620.5,429 621.0,434 621.5,438 622.0,432 622.5,433 623.0,433 623.5,423 624.0,432 624.5,427 625.0,415 625.5,439 626.0,434 626.5,429 627.0,427 627.5,443 628.0,435 628.5,439 629.0,452 629.5,439 630.0,441 630.5,435 631.0,424 631.5,446 632.0,438 632.5,427 633.0,443 633.5,437 634.0,440 634.5,427 635.0,433 635.5,440 636.0,443 636.5,442 637.0,436 637.5,436 638.0,445 638.5,424 639.0,431 639.5,435 640.0,446 640.5,433 641.0,421 641.5,429 642.0,424 642.5,437 643.0,436 643.5,434 644.0,434 644.5,438 645.0,424 645.5,441 646.0,425 646.5,405 647.0,436 647.5,430 648.0,408 648.5,427 649.0,433 649.5,432 650.0,441 650.5,432 651.0,432 651.5,420 652.0,446 652.5,428 653.0,429 653.5,433 654.0,431 654.5,431 655.0,418 655.5,432 656.0,431 656.5,442 657.0,432 657.5,439 658.0,439 658.5,433 659.0,440 659.5,447 660.0,460 660.5,465 661.0,431 661.5,424 662.0,438 662.5,457 663.0,451 663.5,454 664.0,452 664.5,459 665.0,449 665.5,461 666.0,487 666.5,458 667.0,446 667.5,446 668.0,448 668.5,443 669.0,451 669.5,453 670.0,447 670.5,452 671.0,453 671.5,458 672.0,443 672.5,453 673.0,438 673.5,466 674.0,450 674.5,447 675.0,453 675.5,459 676.0,444 676.5,446 677.0,446 677.5,424 678.0,440 678.5,452 679.0,441 679.5,441 680.0,441 680.5,464 681.0,450 681.5,440 682.0,431 682.5,458 683.0,455 683.5,458 684.0,453 684.5,413 685.0,437 685.5,448 686.0,440 686.5,438 687.0,440 687.5,419 688.0,434 688.5,433 689.0,455 689.5,461 690.0,451 690.5,464 691.0,456 691.5,446 692.0,448 692.5,444 693.0,444 693.5,456 694.0,446 694.5,445 695.0,452 695.5,444 696.0,452 696.5,447 697.0,451 697.5,451 698.0,452 698.5,452 699.0,447 699.5,453 700.0,447 700.5,444 701.0,441 701.5,437 702.0,436 702.5,436 703.0,442 703.5,442 704.0,432 704.5,427 705.0,441 705.5,437 706.0,439 706.5,421 707.0,433 707.5,442 708.0,436 708.5,450 709.0,438 709.5,431 710.0,439 710.5,440 711.0,435 711.5,433 712.0,438 712.5,430 713.0,438 713.5,423 714.0,430 714.5,419 715.0,433 715.5,427 716.0,441 716.5,435 717.0,430 717.5,436 718.0,438 718.5,434 719.0,433 719.5,437 720.0,432 720.5,438 721.0,441 721.5,442 722.0,453 722.5,444 723.0,444 723.5,446 724.0,441 724.5,449 725.0,452 725.5,461 726.0,438 726.5,438 727.0,461 727.5,465 728.0,457 728.5,449 729.0,445 729.5,451 730.0,446 730.5,436 731.0,455 731.5,455 732.0,449 732.5,455 733.0,442 733.5,453 734.0,463 734.5,456 735.0,465 735.5,435 736.0,443 736.5,436 737.0,441 737.5,438 738.0,445 738.5,450 739.0,441 739.5,443 740.0,422 740.5,438 741.0,452 741.5,442 742.0,455 742.5,440 743.0,442 743.5,425 744.0,449 744.5,439 745.0,450 745.5,451 746.0,440 746.5,451 747.0,431 747.5,450 748.0,449 748.5,418 749.0,467 749.5,453 750.0,440 750.5,433 751.0,445 751.5,431 752.0,449 752.5,441 753.0,431 753.5,429 754.0,439 754.5,435 755.0,441 755.5,442 756.0,432 756.5,438 757.0,423 757.5,440 758.0,449 758.5,429 759.0,427 759.5,433 760.0,443 760.5,438 761.0,420 761.5,432 762.0,437 762.5,431 763.0,441 763.5,436 764.0,446 764.5,441 765.0,427 765.5,427 766.0,429 766.5,439 767.0,431 767.5,444 768.0,473 768.5,418 769.0,439 769.5,438 770.0,442 770.5,439 771.0,450 771.5,458 772.0,456 772.5,447 773.0,450 773.5,440 774.0,445 774.5,427 775.0,444 775.5,439 776.0,457 776.5,448 777.0,443 777.5,446 778.0,434 778.5,448 779.0,430 779.5,444 780.0,454 780.5,453 781.0,430 781.5,417 782.0,438 782.5,447 783.0,457 783.5,459 784.0,440 784.5,462 785.0,443 785.5,440 786.0,465 786.5,448 787.0,442 787.5,425 788.0,452 788.5,427 789.0,449 789.5,435 790.0,449 790.5,456 791.0,446 791.5,439 792.0,441 792.5,438 793.0,418 793.5,451 794.0,445 794.5,449 795.0,440 795.5,447 796.0,442 796.5,442 797.0,433 797.5,446 798.0,437 798.5,425 799.0,433 799.5,437 800.0,442 800.5,435 801.0,433 801.5,427 802.0,431 802.5,442 803.0,433 803.5,431 804.0,437 804.5,442 805.0,440 805.5,435 806.0,435 806.5,437 807.0,430 807.5,451 808.0,438 808.5,429 809.0,435 809.5,432 810.0,435 810.5,449 811.0,434 811.5,454 812.0,442 812.5,445 813.0,443 813.5,422 814.0,438 814.5,431 815.0,445 815.5,440 816.0,437 816.5,436 817.0,445 817.5,433 818.0,431 818.5,434 819.0,427 819.5,436 820.0,426 820.5,412 821.0,437 821.5,438 822.0,424 822.5,442 823.0,424 823.5,427 824.0,426 824.5,424 825.0,418 825.5,427 826.0,422 826.5,423 827.0,444 827.5,404 828.0,419 828.5,421 829.0,428 829.5,424 830.0,428 830.5,428 831.0,440 831.5,437 832.0,424 832.5,427 833.0,431 833.5,436 834.0,434 834.5,434 835.0,431 835.5,428 836.0,433 836.5,426 837.0,423 837.5,432 838.0,423 838.5,430 839.0,418 839.5,434 840.0,437 840.5,435 841.0,436 841.5,428 842.0,427 842.5,422 843.0,435 843.5,434 844.0,425 844.5,436 845.0,442 845.5,437 846.0,432 846.5,438 847.0,444 847.5,434 848.0,434 848.5,439 849.0,441 849.5,441 850.0,448 850.5,429 851.0,439 851.5,444 852.0,448 852.5,445 853.0,452 853.5,440 854.0,454 854.5,449 855.0,445 855.5,438 856.0,441 856.5,444 857.0,452 857.5,448 858.0,449 858.5,443 859.0,448 859.5,442 860.0,449 860.5,459 861.0,451 861.5,446 862.0,448 862.5,438 863.0,443 863.5,438 864.0,438 864.5,432 865.0,442 865.5,436 866.0,437 866.5,436 867.0,434 867.5,435 868.0,422 868.5,431 869.0,431 869.5,439 870.0,443 870.5,426 871.0,432 871.5,429 872.0,428 872.5,425 873.0,407 873.5,413 874.0,421 874.5,424 875.0,436 875.5,426 876.0,424 876.5,414 877.0,449 877.5,431 878.0,425 878.5,427 879.0,428 879.5,429 880.0,426 880.5,418 881.0,422 881.5,419 882.0,405 882.5,437 883.0,418 883.5,425 884.0,394 884.5,428 885.0,424 885.5,427 886.0,431 886.5,429 887.0,426 887.5,419 888.0,440 888.5,437 889.0,442 889.5,426 890.0,429 890.5,434 891.0,437 891.5,435 892.0,454 892.5,463 893.0,430 893.5,437 894.0,436 894.5,428 895.0,447 895.5,435 896.0,424 896.5,434 897.0,442 897.5,434 898.0,433 898.5,436 899.0,452 899.5,432 900.0,425 900.5,433 901.0,436 901.5,430 902.0,448 902.5,439 903.0,433 903.5,423 904.0,440 904.5,435 905.0,437 905.5,432 906.0,437 906.5,438 907.0,434 907.5,441 908.0,414 908.5,443 909.0,434 909.5,433 910.0,424 910.5,428 911.0,439 911.5,442 912.0,429 912.5,418 913.0,437 913.5,436 914.0,427 914.5,432 915.0,437 915.5,433 916.0,418 916.5,428 917.0,420 917.5,440 918.0,426 918.5,427 919.0,430 919.5,442 920.0,404 920.5,430 921.0,414 921.5,416 922.0,411 922.5,422 923.0,413 923.5,430 924.0,414 924.5,416 925.0,434 925.5,438 926.0,421 926.5,430 927.0,442 927.5,414 928.0,417 928.5,412 929.0,388 929.5,403 930.0,419 930.5,421 931.0,416 931.5,443 932.0,429 932.5,423 933.0,424 933.5,415 934.0,415 934.5,445 935.0,419 935.5,436 936.0,430 936.5,413 937.0,438 937.5,417 938.0,435 938.5,422 939.0,428 939.5,424 940.0,438 940.5,427 941.0,426 941.5,442 942.0,432 942.5,429 943.0,413 943.5,420 944.0,421 944.5,444 945.0,429 945.5,442 946.0,417 946.5,439 947.0,432 947.5,432 948.0,439 948.5,440 949.0,424 949.5,416 950.0,434 950.5,403 951.0,417 951.5,413 952.0,437 952.5,423 953.0,440 953.5,441 954.0,423 954.5,455 955.0,429 955.5,413 956.0,427 956.5,436 957.0,441 957.5,456 958.0,421 958.5,453 959.0,420 959.5,425 960.0,414 960.5,435 961.0,452 961.5,433 962.0,442 962.5,422 963.0,435 963.5,440 964.0,428 964.5,425 965.0,431 965.5,436 966.0,461 966.5,427 967.0,445 967.5,422 968.0,442 968.5,431 969.0,430 969.5,414 970.0,431 970.5,445 971.0,439 971.5,442 972.0,441 972.5,451 973.0,420 973.5,444 974.0,440 974.5,444 975.0,445 975.5,448 976.0,444 976.5,443 977.0,465 977.5,437 978.0,449 978.5,435 979.0,443 979.5,440 980.0,443 980.5,437 981.0,451 981.5,438 982.0,441 982.5,438 983.0,451 983.5,445 984.0,435 984.5,438 985.0,437 985.5,441 986.0,458 986.5,444" fill="none" stroke="#00ffff" stroke-width="7.2" stroke-linejoin="bevel" shape-rendering="crispEdges" stroke-dasharray="23.2 7.4"/>
<polyline points="107.5,48 108.0,62 108.5,77 109.0,92 109.5,106 110.0,118 110.5,131 111.0,143 111.5,156 112.0,170 112.5,180 113.0,195 113.5,205 114.0,214 114.5,227 115.0,238 115.5,246 116.0,247 116.5,259 117.0,269 117.5,267 118.0,281 118.5,289 119.0,295 119.5,288 120.0,301 120.5,302 121.0,297 121.5,313 122.0,316 122.5,310 123.0,294 123.5,316 124.0,325 124.5,313 125.0,329 125.5,312 126.0,324 126.5,314 127.0,318 127.5,327 128.0,335 128.5,323 129.0,338 129.5,330 130.0,341 130.5,318 131.0,348 131.5,347 132.0,356 132.5,337 133.0,349 133.5,342 134.0,356 134.5,334 135.0,315 135.5,353 136.0,346 136.5,385 137.0,355 137.5,347 138.0,347 138.5,334 139.0,341 139.5,356 140.0,345 140.5,338 141.0,354 141.5,355 142.0,359 142.5,350 143.0,370 143.5,365 144.0,337 144.5,355 145.0,335 145.5,351 146.0,349 146.5,345 147.0,367 147.5,354 148.0,343 148.5,350 149.0,367 149.5,359 150.0,356 150.5,367 151.0,362 151.5,356 152.0,360 152.5,348 153.0,343 153.5,362 154.0,350 154.5,336 155.0,360 155.5,352 156.0,335 156.5,347 157.0,355 157.5,365 158.0,355 158.5,350 159.0,348 159.5,342 160.0,344 160.5,357 161.0,355 161.5,365 162.0,336 162.5,361 163.0,348 163.5,327 164.0,344 164.5,355 165.0,353 165.5,354 166.0,350 166.5,341 167.0,343 167.5,372 168.0,351 168.5,340 169.0,329 169.5,352 170.0,349 170.5,345 171.0,354 171.5,354 172.0,353 172.5,354 173.0,363 173.5,353 174.0,351 174.5,341 175.0,356 175.5,351 176.0,354 176.5,330 177.0,346 177.5,366 178.0,344 178.5,340 179.0,356 179.5,366 180.0,360 180.5,360 181.0,356 181.5,359 182.0,353 182.5,351 183.0,358 183.5,359 184.0,356 184.5,352 185.0,367 185.5,362 186.0,354 186.5,361 187.0,358 187.5,354 188.0,360 188.5,365 189.0,367 189.5,360 190.0,361 190.5,361 191.0,343 191.5,358 192.0,350 192.5,360 193.0,353 193.5,337 194.0,359 194.5,361 195.0,384 195.5,339 196.0,364 196.5,332 197.0,362 197.5,332 198.0,346 198.5,334 199.0,353 199.5,364 200.0,339 200.5,348 201.0,339 201.5,341 202.0,327 202.5,336 203.0,346 203.5,338 204.0,321 204.5,319 205.0,346 205.5,346 206.0,339 206.5,340 207.0,346 207.5,336 208.0,368 208.5,357 209.0,351 209.5,352 210.0,340 210.5,337 211.0,346 211.5,345 212.0,341 212.5,349 213.0,345 213.5,347 214.0,351 214.5,354 215.0,363 215.5,357 216.0,348 216.5,346 217.0,346 217.5,349 218.0,350 218.5,352 219.0,352 219.5,345 220.0,366 220.5,346 221.0,352 221.5,347 222.0,346 222.5,345 223.0,349 223.5,342 224.0,356 224.5,341 225.0,354 225.5,342 226.0,350 226.5,354 227.0,355 227.5,334 228.0,353 228.5,347 229.0,352 229.5,362 230.0,361 230.5,342 231.0,362 231.5,357 232.0,360 232.5,359 233.0,360 233.5,355 234.0,342 234.5,352 235.0,361 235.5,356 236.0,353 236.5,367 237.0,355 237.5,367 238.0,367 238.5,362 239.0,357 239.5,365 240.0,359 240.5,356 241.0,356 241.5,345 242.0,344 242.5,330 243.0,350 243.5,347 244.0,371 244.5,334 245.0,358 245.5,366 246.0,363 246.5,361 247.0,348 247.5,334 248.0,366 248.5,343 249.0,338 249.5,352 250.0,358 250.5,352 251.0,342 251.5,337 252.0,340 252.5,353 253.0,338 253.5,360 254.0,356 254.5,355 255.0,348 255.5,362 256.0,356 256.5,359 257.0,357 257.5,358 258.0,355 258.5,342 259.0,350 259.5,345 260.0,356 260.5,347 261.0,355 261.5,354 262.0,352 262.5,359 263.0,350 263.5,347 264.0,352 264.5,351 265.0,354 265.5,336 266.0,350 266.5,342 267.0,350 267.5,347 268.0,342 268.5,355 269.0,346 269.5,345 270.0,372 270.5,353 271.0,357 271.5,360 272.0,369 272.5,353 273.0,340 273.5,364 274.0,340 274.5,338 275.0,366 275.5,344 276.0,342 276.5,339 277.0,343 277.5,358 278.0,339 278.5,346 279.0,350 279.5,343 280.0,334 280.5,346 281.0,375 281.5,353 282.0,332 282.5,350 283.0,354 283.5,354 284.0,361 284.5,321 285.0,358 285.5,338 286.0,341 286.5,335 287.0,348 287.5,352 288.0,363 288.5,352 289.0,315 289.5,336 290.0,349 290.5,356 291.0,330 291.5,356 292.0,365 292.5,333 293.0,354 293.5,325 294.0,349 294.5,339 295.0,337 295.5,355 296.0,332 296.5,347 297.0,325 297.5,326 298.0,335 298.5,335 299.0,344 299.5,345 300.0,378 300.5,345 301.0,347 301.5,353 302.0,360 302.5,361 303.0,341 303.5,347 304.0,347 304.5,343 305.0,342 305.5,347 306.0,337 306.5,335 307.0,335 307.5,334 308.0,353 308.5,359 309.0,329 309.5,345 310.0,346 310.5,340 311.0,348 311.5,332 312.0,339 312.5,349 313.0,342 313.5,335 314.0,335 314.5,337 315.0,350 315.5,337 316.0,322 316.5,337 317.0,341 317.5,348 318.0,345 318.5,342 319.0,339 319.5,349 320.0,332 320.5,344 321.0,340 321.5,334 322.0,331 322.5,342 323.0,351 323.5,314 324.0,323 324.5,327 325.0,330 325.5,339 326.0,344 326.5,337 327.0,327 327.5,327 328.0,332 328.5,339 329.0,326 329.5,328 330.0,349 330.5,338 331.0,351 331.5,318 332.0,334 332.5,349 333.0,342 333.5,355 334.0,325 334.5,346 335.0,333 335.5,358 336.0,339 336.5,340 337.0,349 337.5,337 338.0,344 338.5,341 339.0,348 339.5,338 340.0,356 340.5,340 341.0,329 341.5,344 342.0,341 342.5,350 343.0,335 343.5,336 344.0,353 344.5,343 345.0,333 345.5,344 346.0,353 346.5,338 347.0,343 347.5,340 348.0,364 348.5,335 349.0,321 349.5,339 350.0,355 350.5,345 351.0,328 351.5,334 352.0,343 352.5,348 353.0,352 353.5,333 354.0,349 354.5,336 355.0,332 355.5,344 356.0,320 356.5,337 357.0,356 357.5,351 358.0,346 358.5,342 359.0,337 359.5,359 360.0,351 360.5,348 361.0,345 361.5,329 362.0,341 362.5,360 363.0,350 363.5,346 364.0,336 364.5,340 365.0,338 365.5,309 366.0,337 366.5,339 367.0,332 367.5,331 368.0,339 368.5,334 369.0,335 369.5,345 370.0,342 370.5,324 371.0,332 371.5,339 372.0,329 372.5,329 373.0,338 373.5,333 374.0,332 374.5,335 375.0,330 375.5,331 376.0,344 376.5,333 377.0,331 377.5,333 378.0,319 378.5,335 379.0,325 379.5,331 380.0,337 380.5,333 381.0,324 381.5,338 382.0,357 382.5,339 383.0,332 383.5,335 384.0,341 384.5,333 385.0,335 385.5,353 386.0,344 386.5,347 387.0,349 387.5,344 388.0,337 388.5,362 389.0,333 389.5,337 390.0,332 390.5,345 391.0,342 391.5,353 392.0,339 392.5,349 393.0,341 393.5,345 394.0,334 394.5,345 395.0,326 395.5,347 396.0,334 396.5,354 397.0,335 397.5,328 398.0,335 398.5,334 399.0,325 399.5,325 400.0,318 400.5,333 401.0,343 401.5,333 402.0,322 402.5,337 403.0,333 403.5,355 404.0,328 404.5,316 405.0,307 405.5,322 406.0,327 406.5,323 407.0,326 407.5,336 408.0,337 408.5,319 409.0,329 409.5,330 410.0,297 410.5,342 411.0,335 411.5,335 412.0,351 412.5,335 413.0,332 413.5,332 414.0,346 414.5,354 415.0,349 415.5,351 416.0,347 416.5,343 417.0,353 417.5,344 418.0,351 418.5,339 419.0,347 419.5,375 420.0,354 420.5,341 421.0,343 421.5,348 422.0,342 422.5,346 423.0,342 423.5,349 424.0,345 424.5,341 425.0,347 425.5,351 426.0,348 426.5,340 427.0,348 427.5,341 428.0,349 428.5,358 429.0,355 429.5,345 430.0,345 430.5,356 431.0,351 431.5,350 432.0,328 432.5,366 433.0,351 433.5,351 434.0,347 434.5,335 435.0,345 435.5,370 436.0,362 436.5,361 437.0,353 437.5,363 438.0,313 438.5,358 439.0,343 439.5,360 440.0,366 440.5,347 441.0,343 441.5,353 442.0,351 442.5,347 443.0,347 443.5,312 444.0,344 444.5,361 445.0,353 445.5,348 446.0,323 446.5,339 447.0,334 447.5,320 448.0,360 448.5,337 449.0,324 449.5,353 450.0,339 450.5,342 451.0,339 451.5,327 452.0,344 452.5,345 453.0,345 453.5,327 454.0,353 454.5,336 455.0,352 455.5,342 456.0,357 456.5,359 457.0,352 457.5,338 458.0,353 458.5,343 459.0,353 459.5,343 460.0,343 460.5,343 461.0,342 461.5,347 462.0,353 462.5,344 463.0,340 463.5,356 464.0,341 464.5,338 465.0,341 465.5,338 466.0,340 466.5,334 467.0,330 467.5,337 468.0,328 468.5,334 469.0,336 469.5,334 470.0,332 470.5,339 471.0,335 471.5,334 472.0,335 472.5,338 473.0,343 473.5,329 474.0,337 474.5,343 475.0,333 475.5,340 476.0,325 476.5,345 477.0,352 477.5,332 478.0,351 478.5,350 479.0,345 479.5,355 480.0,342 480.5,339 481.0,337 481.5,328 482.0,344 482.5,331 483.0,334 483.5,338 484.0,336 484.5,343 485.0,331 485.5,338 486.0,327 486.5,330 487.0,325 487.5,339 488.0,329 488.5,337 489.0,322 489.5,325 490.0,332 490.5,327 491.0,324 491.5,324 492.0,337 492.5,330 493.0,323 493.5,337 494.0,328 494.5,337 495.0,327 495.5,328 496.0,332 496.5,326 497.0,330 497.5,322 498.0,329 498.5,325 499.0,325 499.5,332 500.0,332 500.5,330 501.0,321 501.5,330 502.0,329 502.5,335 503.0,322 503.5,311 504.0,330 504.5,325 505.0,335 505.5,338 506.0,322 506.5,330 507.0,325 507.5,319 508.0,318 508.5,323 509.0,321 509.5,313 510.0,329 510.5,318 511.0,315 511.5,333 512.0,327 512.5,332 513.0,336 513.5,330 514.0,325 514.5,337 515.0,323 515.5,320 516.0,341 516.5,339 517.0,326 517.5,317 518.0,327 518.5,313 519.0,332 519.5,337 520.0,324 520.5,329 521.0,329 521.5,333 522.0,332 522.5,342 523.0,339 523.5,328 524.0,339 524.5,339 525.0,335 525.5,344 526.0,331 526.5,337 527.0,330 527.5,356 528.0,339 528.5,344 529.0,324 529.5,348 530.0,337 530.5,338 531.0,326 531.5,339 532.0,338 532.5,353 533.0,334 533.5,340 534.0,336 534.5,339 535.0,329 535.5,333 536.0,338 536.5,342 537.0,345 537.5,329 538.0,345 538.5,345 539.0,332 539.5,349 540.0,352 540.5,348 541.0,348 541.5,352 542.0,342 542.5,339 543.0,355 543.5,358 544.0,350 544.5,354 545.0,344 545.5,349 546.0,349 546.5,350 547.0,348 547.5,354 548.0,346 548.5,343 549.0,345 549.5,336 550.0,343 550.5,340 551.0,343 551.5,357 552.0,351 552.5,342 553.0,355 553.5,363 554.0,330 554.5,353 555.0,339 555.5,345 556.0,351 556.5,342 557.0,335 557.5,350 558.0,357 558.5,334 559.0,351 559.5,345 560.0,344 560.5,337 561.0,331 561.5,339 562.0,346 562.5,350 563.0,340 563.5,333 564.0,339 564.5,335 565.0,342 565.5,349 566.0,352 566.5,353 567.0,325 567.5,334 568.0,339 568.5,344 569.0,332 569.5,339 570.0,363 570.5,359 571.0,345 571.5,333 572.0,328 572.5,358 573.0,347 573.5,353 574.0,356 574.5,346 575.0,341 575.5,351 576.0,353 576.5,364 577.0,332 577.5,337 578.0,341 578.5,318 579.0,377 579.5,341 580.0,355 580.5,343 581.0,342 581.5,332 582.0,347 582.5,350 583.0,346 583.5,352 584.0,334 584.5,338 585.0,331 585.5,342 586.0,344 586.5,336 587.0,336 587.5,343 588.0,334 588.5,351 589.0,346 589.5,314 590.0,340 590.5,330 591.0,335 591.5,337 592.0,354 592.5,343 593.0,339 593.5,345 594.0,348 594.5,347 595.0,340 595.5,347 596.0,343 596.5,362 597.0,336 597.5,348 598.0,341 598.5,348 599.0,348 599.5,342 600.0,348 600.5,356 601.0,340 601.5,348 602.0,356 602.5,355 603.0,349 603.5,361 604.0,349 604.5,348 605.0,348 605.5,348 606.0,358 606.5,356 607.0,348 607.5,341 608.0,314 608.5,346 609.0,374 609.5,367 610.0,320 610.5,346 611.0,349 611.5,333 612.0,352 612.5,373 613.0,350 613.5,328 614.0,336 614.5,327 615.0,341 615.5,336 616.0,345 616.5,339 617.0,356 617.5,340 618.0,347 618.5,332 619.0,335 619.5,334 620.0,328 620.5,330 621.0,339 621.5,339 622.0,342 622.5,366 623.0,361 623.5,343 624.0,342 624.5,349 625.0,353 625.5,355 626.0,354 626.5,349 627.0,368 627.5,349 628.0,343 628.5,351 629.0,348 629.5,362 630.0,340 630.5,348 631.0,345 631.5,333 632.0,362 632.5,351 633.0,341 633.5,347 634.0,344 634.5,336 635.0,349 635.5,346 636.0,349 636.5,343 637.0,340 637.5,340 638.0,337 638.5,345 639.0,346 639.5,337 640.0,347 640.5,343 641.0,344 641.5,354 642.0,337 642.5,348 643.0,352 643.5,348 644.0,334 644.5,356 645.0,358 645.5,352 646.0,349 646.5,353 647.0,353 647.5,352 648.0,359 648.5,344 649.0,343 649.5,346 650.0,335 650.5,315 651.0,316 651.5,334 652.0,319 652.5,305 653.0,322 653.5,324 654.0,338 654.5,329 655.0,332 655.5,336 656.0,337 656.5,326 657.0,334 657.5,318 658.0,325 658.5,344 659.0,331 659.5,341 660.0,337 660.5,330 661.0,327 661.5,327 662.0,331 662.5,331 663.0,350 663.5,325 664.0,326 664.5,345 665.0,340 665.5,360 666.0,344 666.5,360 667.0,337 667.5,329 668.0,343 668.5,334 669.0,340 669.5,336 670.0,338 670.5,347 671.0,345 671.5,336 672.0,353 672.5,334 673.0,337 673.5,345 674.0,337 674.5,347 675.0,368 675.5,355 676.0,345 676.5,343 677.0,354 677.5,347 678.0,339 678.5,344 679.0,337 679.5,336 680.0,368 680.5,363 681.0,344 681.5,349 682.0,364 682.5,349 683.0,358 683.5,341 684.0,334 684.5,354 685.0,345 685.5,357 686.0,363 686.5,354 687.0,353 687.5,359 688.0,358 688.5,355 689.0,348 689.5,354 690.0,333 690.5,354 691.0,345 691.5,338 692.0,330 692.5,343 693.0,342 693.5,333 694.0,327 694.5,350 695.0,335 695.5,333 696.0,335 696.5,339 697.0,317 697.5,361 698.0,319 698.5,345 699.0,333 699.5,338 700.0,363 700.5,337 701.0,348 701.5,328 702.0,355 702.5,337 703.0,339 703.5,336 704.0,336 704.5,328 705.0,324 705.5,318 706.0,322 706.5,317 707.0,326 707.5,350 708.0,332 708.5,323 709.0,328 709.5,335 710.0,336 710.5,348 711.0,336 711.5,323 712.0,341 712.5,357 713.0,317 713.5,329 714.0,329 714.5,348 715.0,331 715.5,312 716.0,339 716.5,331 717.0,330 717.5,339 718.0,323 718.5,333 719.0,331 719.5,338 720.0,337 720.5,322 721.0,315 721.5,331 722.0,343 722.5,335 723.0,313 723.5,326 724.0,324 724.5,322 725.0,328 725.5,337 726.0,323 726.5,342 727.0,312 727.5,339 728.0,327 728.5,329 729.0,343 729.5,313 730.0,342 730.5,361 731.0,334 731.5,328 732.0,331 732.5,346 733.0,347 733.5,324 734.0,333 734.5,329 735.0,333 735.5,348 736.0,325 736.5,332 737.0,346 737.5,353 738.0,327 738.5,331 739.0,320 739.5,335 740.0,337 740.5,339 741.0,332 741.5,339 742.0,344 742.5,350 743.0,344 743.5,337 744.0,339 744.5,350 745.0,326 745.5,347 746.0,347 746.5,339 747.0,334 747.5,349 748.0,339 748.5,367 749.0,351 749.5,360 750.0,351 750.5,348 751.0,346 751.5,342 752.0,328 752.5,342 753.0,334 753.5,342 754.0,340 754.5,346 755.0,349 755.5,356 756.0,346 756.5,339 757.0,345 757.5,342 758.0,348 758.5,352 759.0,362 759.5,353 760.0,349 760.5,347 761.0,346 761.5,355 762.0,356 762.5,332 763.0,355 763.5,353 764.0,347 764.5,354 765.0,352 765.5,357 766.0,359 766.5,359 767.0,347 767.5,354 768.0,346 768.5,357 769.0,362 769.5,370 770.0,355 770.5,361 771.0,354 771.5,363 772.0,343 772.5,341 773.0,355 773.5,348 774.0,341 774.5,368 775.0,341 775.5,359 776.0,346 776.5,327 777.0,333 777.5,332 778.0,331 778.5,334 779.0,328 779.5,344 780.0,316 780.5,349 781.0,330 781.5,326 782.0,330 782.5,335 783.0,334 783.5,337 784.0,340 784.5,347 785.0,342 785.5,344 786.0,334 786.5,348 787.0,333 787.5,349 788.0,328 788.5,343 789.0,356 789.5,343 790.0,332 790.5,355 791.0,341 791.5,359 792.0,341 792.5,354 793.0,337 793.5,353 794.0,343 794.5,344 795.0,350 795.5,349 796.0,329 796.5,319 797.0,358 797.5,339 798.0,348 798.5,354 799.0,359 799.5,355 800.0,336 800.5,363 801.0,359 801.5,357 802.0,356 802.5,342 803.0,339 803.5,352 804.0,351 804.5,350 805.0,348 805.5,342 806.0,342 806.5,346 807.0,346 807.5,344 808.0,345 808.5,349 809.0,341 809.5,341 810.0,334 810.5,334 811.0,335 811.5,371 812.0,354 812.5,331 813.0,345 813.5,353 814.0,338 814.5,353 815.0,327 815.5,356 816.0,348 816.5,340 817.0,343 817.5,342 818.0,336 818.5,343 819.0,351 819.5,333 820.0,334 820.5,342 821.0,351 821.5,335 822.0,346 822.5,328 823.0,325 823.5,336 824.0,345 824.5,345 825.0,334 825.5,334 826.0,333 826.5,342 827.0,339 827.5,341 828.0,338 828.5,338 829.0,335 829.5,334 830.0,344 830.5,334 831.0,338 831.5,349 832.0,332 832.5,342 833.0,340 833.5,338 834.0,320 834.5,342 835.0,332 835.5,339 836.0,321 836.5,342 837.0,333 837.5,348 838.0,343 838.5,348 839.0,344 839.5,348 840.0,340 840.5,352 841.0,349 841.5,355 842.0,329 842.5,343 843.0,339 843.5,338 844.0,347 844.5,346 845.0,347 845.5,346 846.0,328 846.5,337 847.0,345 847.5,348 848.0,329 848.5,337 849.0,338 849.5,351 850.0,350 850.5,342 851.0,352 851.5,348 852.0,359 852.5,329 853.0,357 853.5,358 854.0,353 854.5,349 855.0,337 855.5,342 856.0,359 856.5,350 857.0,339 857.5,356 858.0,356 858.5,333 859.0,352 859.5,350 860.0,338 860.5,356 861.0,344 861.5,340 862.0,337 862.5,313 863.0,330 863.5,325 864.0,337 864.5,325 865.0,334 865.5,332 866.0,349 866.5,348 867.0,325 867.5,329 868.0,323 868.5,325 869.0,318 869.5,344 870.0,331 870.5,320 871.0,322 871.5,322 872.0,331 872.5,324 873.0,329 873.5,344 874.0,326 874.5,333 875.0,322 875.5,329 876.0,335 876.5,349 877.0,323 877.5,323 878.0,325 878.5,322 879.0,335 879.5,329 880.0,311 880.5,324 881.0,342 881.5,333 882.0,332 882.5,329 883.0,347 883.5,321 884.0,322 884.5,322 885.0,329 885.5,315 886.0,309 886.5,321 887.0,333 887.5,337 888.0,301 888.5,330 889.0,331 889.5,347 890.0,328 890.5,323 891.0,336 891.5,330 892.0,340 892.5,335 893.0,351 893.5,334 894.0,341 894.5,334 895.0,324 895.5,335 896.0,326 896.5,330 897.0,335 897.5,336 898.0,345 898.5,324 899.0,331 899.5,336 900.0,334 900.5,334 901.0,326 901.5,336 902.0,322 902.5,329 903.0,319 903.5,322 904.0,324 904.5,334 905.0,328 905.5,337 906.0,314 906.5,325 907.0,333 907.5,336 908.0,338 908.5,340 909.0,340 909.5,332 910.0,339 910.5,332 911.0,331 911.5,336 912.0,333 912.5,320 913.0,343 913.5,341 914.0,324 914.5,335 915.0,328 915.5,330 916.0,325 916.5,319 917.0,325 917.5,338 918.0,334 918.5,350 919.0,325 919.5,320 920.0,318 920.5,348 921.0,320 921.5,325 922.0,317 922.5,326 923.0,325 923.5,321 924.0,314 924.5,322 925.0,324 925.5,314 926.0,303 926.5,313 927.0,307 927.5,323 928.0,304 928.5,311 929.0,308 929.5,315 930.0,323 930.5,295 931.0,300 931.5,314 932.0,307 932.5,324 933.0,303 933.5,316 934.0,333 934.5,298 935.0,318 935.5,329 936.0,308 936.5,316 937.0,338 937.5,330 938.0,322 938.5,358 939.0,331 939.5,342 940.0,334 940.5,331 941.0,339 941.5,336 942.0,327 942.5,348 943.0,337 943.5,332 944.0,338 944.5,343 945.0,344 945.5,332 946.0,337 946.5,345 947.0,334 947.5,344 948.0,346 948.5,328 949.0,317 949.5,341 950.0,337 950.5,327 951.0,340 951.5,334 952.0,326 952.5,332 953.0,329 953.5,326 954.0,327 954.5,322 955.0,316 955.5,317 956.0,317 956.5,320 957.0,319 957.5,314 958.0,331 958.5,324 959.0,321 959.5,324 960.0,329 960.5,323 961.0,331 961.5,332 962.0,330 962.5,308 963.0,320 963.5,330 964.0,326 964.5,328 965.0,324 965.5,323 966.0,317 966.5,321 967.0,318 967.5,324 968.0,318 968.5,315 969.0,323 969.5,321 970.0,324 970.5,331 971.0,318 971.5,322 972.0,331 972.5,321 973.0,288 973.5,315 974.0,329 974.5,321 975.0,306 975.5,313 976.0,340 976.5,329 977.0,326 977.5,311 978.0,320 978.5,318 979.0,308 979.5,340 980.0,322 980.5,331 981.0,333 981.5,309 982.0,307 982.5,321 983.0,325 983.5,314 984.0,335 984.5,304 985.0,319 985.5,328 986.0,324 986.5,323" fill="none" stroke="#00ff00" stroke-width="7.2" stroke-linejoin="bevel" shape-rendering="crispEdges"/>
</g>
<g class="tk">
<text transform="translate(99.5,28.5) scale(1,1.07)" text-anchor="end">-15</text>
<text transform="translate(99.5,175.0) scale(1,1.07)" text-anchor="end">-20</text>
<text transform="translate(99.5,321.6) scale(1,1.07)" text-anchor="end">-25</text>
<text transform="translate(99.5,468.1) scale(1,1.07)" text-anchor="end">-30</text>
<text transform="translate(99.5,614.7) scale(1,1.07)" text-anchor="end">-35</text>
<text transform="translate(107.2,724.2) scale(1,1.07)" text-anchor="middle">0</text>
<text transform="translate(398.0,724.2) scale(1,1.07)" text-anchor="middle">5000</text>
<text transform="translate(690.3,724.2) scale(1,1.07)" text-anchor="middle">10000</text>
<text transform="translate(983.9,724.2) scale(1,1.07)" text-anchor="middle">15000</text>
</g>
<text class="lab" x="541.6" y="765.9" text-anchor="middle">iteration(n)</text>
<text class="lab" transform="translate(44.1,358.2) rotate(-90)" text-anchor="middle">MSD(dB)</text>
<rect x="120.6" y="34.9" width="202.6" height="241.2" fill="#fff" stroke="#000" stroke-width="1.8"/>
<line x1="134.7" y1="60.2" x2="203.5" y2="60.2" stroke="#ff00ff" stroke-width="7.2" shape-rendering="crispEdges" stroke-dasharray="8 7.3"/>
<text class="sig" transform="translate(218.0,74.5) scale(1.12,0.88)">σ</text>
<text x="239.0" y="74.5" class="lg">=0.5</text>
<line x1="134.7" y1="107.4" x2="210.6" y2="107.4" stroke="#ff0000" stroke-width="7.2" shape-rendering="crispEdges"/>
<text class="sig" transform="translate(218.0,121.7) scale(1.12,0.88)">σ</text>
<text x="239.0" y="121.7" class="lg">=1.0</text>
<line x1="134.7" y1="154.85" x2="203.2" y2="154.85" stroke="#0000ff" stroke-width="7.2" shape-rendering="crispEdges" stroke-dasharray="23.2 7.4 7.6 7.4"/>
<text class="sig" transform="translate(218.0,169.2) scale(1.12,0.88)">σ</text>
<text x="239.0" y="169.2" class="lg">=2.0</text>
<line x1="134.7" y1="200.2" x2="210.6" y2="200.2" stroke="#00ffff" stroke-width="7.2" shape-rendering="crispEdges" stroke-dasharray="23.2 7.4"/>
<text class="sig" transform="translate(218.0,214.5) scale(1.12,0.88)">σ</text>
<text x="239.0" y="214.5" class="lg">=4.0</text>
<line x1="134.7" y1="247.6" x2="210.6" y2="247.6" stroke="#00ff00" stroke-width="7.2" shape-rendering="crispEdges"/>
<text class="sig" transform="translate(218.0,261.9) scale(1.12,0.88)">σ</text>
<text x="239.0" y="261.9" class="lg">=8.0</text>
</svg>
</body></html>
